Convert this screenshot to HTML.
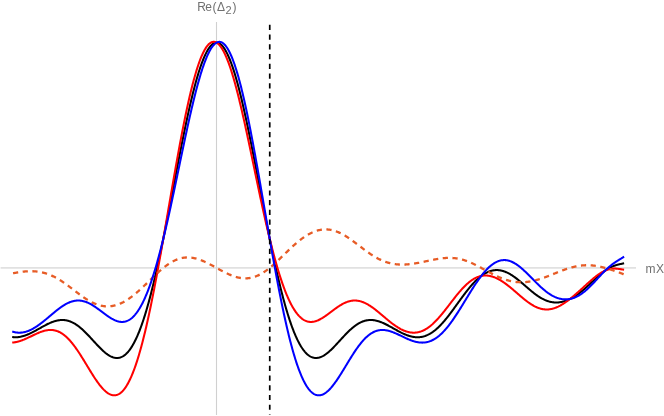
<!DOCTYPE html>
<html><head><meta charset="utf-8"><title>Plot</title>
<style>
html,body{margin:0;padding:0;background:#fff;}
body{width:664px;height:416px;overflow:hidden;position:relative;font-family:"Liberation Sans",sans-serif;}
svg{position:absolute;left:0;top:0;display:block;}
.lbl{position:absolute;color:#707070;font-size:12px;line-height:1;white-space:nowrap;filter:grayscale(1);}
.lbl span{position:absolute;top:0;}
.lbl .sb{font-size:11px;top:3.9px;}
</style></head><body>
<svg width="664" height="416" viewBox="0 0 664 416" fill="none">

<rect x="0.6" y="267" width="635.4" height="1" fill="#e1e1e1"/><rect x="0.6" y="268" width="635.4" height="1" fill="#e8e8e8"/>
<line x1="216.5" y1="22" x2="216.5" y2="415" stroke="#d0d0d0" stroke-width="1.1"/>
<path d="M12.2 337.02 L12.7 337.09 L13.2 337.14 L13.7 337.19 L14.2 337.22 L14.7 337.24 L15.2 337.25 L15.7 337.26 L16.2 337.25 L16.7 337.23 L17.2 337.20 L17.7 337.16 L18.2 337.11 L18.7 337.05 L19.2 336.98 L19.7 336.90 L20.2 336.81 L20.7 336.71 L21.2 336.61 L21.7 336.49 L22.2 336.37 L22.7 336.24 L23.2 336.10 L23.7 335.95 L24.2 335.79 L24.7 335.63 L25.2 335.46 L25.7 335.28 L26.2 335.09 L26.7 334.90 L27.2 334.70 L27.7 334.50 L28.2 334.29 L28.7 334.07 L29.2 333.85 L29.7 333.62 L30.2 333.39 L30.7 333.15 L31.2 332.91 L31.7 332.67 L32.2 332.41 L32.7 332.16 L33.2 331.90 L33.7 331.64 L34.2 331.38 L34.7 331.11 L35.2 330.84 L35.7 330.56 L36.2 330.29 L36.7 330.01 L37.2 329.73 L37.7 329.46 L38.2 329.17 L38.7 328.89 L39.2 328.61 L39.7 328.33 L40.2 328.05 L40.7 327.77 L41.2 327.49 L41.7 327.21 L42.2 326.93 L42.7 326.65 L43.2 326.38 L43.7 326.10 L44.2 325.83 L44.7 325.57 L45.2 325.30 L45.7 325.04 L46.2 324.78 L46.7 324.53 L47.2 324.28 L47.7 324.03 L48.2 323.79 L48.7 323.56 L49.2 323.33 L49.7 323.10 L50.2 322.88 L50.7 322.67 L51.2 322.46 L51.7 322.26 L52.2 322.07 L52.7 321.88 L53.2 321.70 L53.7 321.53 L54.2 321.37 L54.7 321.21 L55.2 321.06 L55.7 320.93 L56.2 320.80 L56.7 320.68 L57.2 320.57 L57.7 320.46 L58.2 320.37 L58.7 320.29 L59.2 320.22 L59.7 320.16 L60.2 320.10 L60.7 320.06 L61.2 320.03 L61.7 320.02 L62.2 320.01 L62.7 320.01 L63.2 320.03 L63.7 320.05 L64.2 320.09 L64.7 320.14 L65.2 320.20 L65.7 320.28 L66.2 320.36 L66.7 320.46 L67.2 320.57 L67.7 320.69 L68.2 320.82 L68.7 320.97 L69.2 321.13 L69.7 321.30 L70.2 321.48 L70.7 321.68 L71.2 321.88 L71.7 322.10 L72.2 322.33 L72.7 322.58 L73.2 322.83 L73.7 323.10 L74.2 323.38 L74.7 323.67 L75.2 323.97 L75.7 324.29 L76.2 324.61 L76.7 324.95 L77.2 325.30 L77.7 325.65 L78.2 326.02 L78.7 326.40 L79.2 326.79 L79.7 327.19 L80.2 327.60 L80.7 328.01 L81.2 328.44 L81.7 328.88 L82.2 329.32 L82.7 329.78 L83.2 330.24 L83.7 330.71 L84.2 331.18 L84.7 331.67 L85.2 332.16 L85.7 332.66 L86.2 333.16 L86.7 333.67 L87.2 334.18 L87.7 334.70 L88.2 335.23 L88.7 335.76 L89.2 336.29 L89.7 336.82 L90.2 337.36 L90.7 337.91 L91.2 338.45 L91.7 338.99 L92.2 339.54 L92.7 340.09 L93.2 340.64 L93.7 341.19 L94.2 341.73 L94.7 342.28 L95.2 342.82 L95.7 343.37 L96.2 343.91 L96.7 344.45 L97.2 344.98 L97.7 345.51 L98.2 346.04 L98.7 346.56 L99.2 347.08 L99.7 347.59 L100.2 348.09 L100.7 348.59 L101.2 349.08 L101.7 349.56 L102.2 350.03 L102.7 350.50 L103.2 350.96 L103.7 351.40 L104.2 351.84 L104.7 352.26 L105.2 352.68 L105.7 353.08 L106.2 353.47 L106.7 353.84 L107.2 354.21 L107.7 354.56 L108.2 354.89 L108.7 355.21 L109.2 355.52 L109.7 355.81 L110.2 356.08 L110.7 356.34 L111.2 356.58 L111.7 356.81 L112.2 357.01 L112.7 357.20 L113.2 357.36 L113.7 357.51 L114.2 357.64 L114.7 357.75 L115.2 357.84 L115.7 357.91 L116.2 357.95 L116.7 357.97 L117.2 357.98 L117.7 357.96 L118.2 357.91 L118.7 357.84 L119.2 357.75 L119.7 357.64 L120.2 357.50 L120.7 357.34 L121.2 357.15 L121.7 356.93 L122.2 356.69 L122.7 356.43 L123.2 356.13 L123.7 355.81 L124.2 355.47 L124.7 355.10 L125.2 354.69 L125.7 354.27 L126.2 353.81 L126.7 353.32 L127.2 352.81 L127.7 352.27 L128.2 351.70 L128.7 351.10 L129.2 350.47 L129.7 349.81 L130.2 349.12 L130.7 348.40 L131.2 347.66 L131.7 346.88 L132.2 346.07 L132.7 345.23 L133.2 344.36 L133.7 343.46 L134.2 342.53 L134.7 341.57 L135.2 340.58 L135.7 339.55 L136.2 338.50 L136.7 337.41 L137.2 336.30 L137.7 335.15 L138.2 333.97 L138.7 332.76 L139.2 331.52 L139.7 330.25 L140.2 328.95 L140.7 327.62 L141.2 326.26 L141.7 324.86 L142.2 323.44 L142.7 321.98 L143.2 320.50 L143.7 318.98 L144.2 317.44 L144.7 315.86 L145.2 314.26 L145.7 312.62 L146.2 310.96 L146.7 309.27 L147.2 307.55 L147.7 305.80 L148.2 304.02 L148.7 302.21 L149.2 300.38 L149.7 298.52 L150.2 296.63 L150.7 294.71 L151.2 292.77 L151.7 290.80 L152.2 288.81 L152.7 286.79 L153.2 284.74 L153.7 282.67 L154.2 280.58 L154.7 278.46 L155.2 276.32 L155.7 274.16 L156.2 271.97 L156.7 269.76 L157.2 267.53 L157.7 265.28 L158.2 263.01 L158.7 260.71 L159.2 258.40 L159.7 256.07 L160.2 253.72 L160.7 251.35 L161.2 248.97 L161.7 246.57 L162.2 244.15 L162.7 241.71 L163.2 239.26 L163.7 236.80 L164.2 234.32 L164.7 231.83 L165.2 229.33 L165.7 226.81 L166.2 224.29 L166.7 221.75 L167.2 219.21 L167.7 216.65 L168.2 214.09 L168.7 211.51 L169.2 208.94 L169.7 206.35 L170.2 203.76 L170.7 201.17 L171.2 198.57 L171.7 195.96 L172.2 193.36 L172.7 190.75 L173.2 188.14 L173.7 185.54 L174.2 182.93 L174.7 180.32 L175.2 177.72 L175.7 175.12 L176.2 172.52 L176.7 169.93 L177.2 167.34 L177.7 164.76 L178.2 162.18 L178.7 159.61 L179.2 157.05 L179.7 154.51 L180.2 151.97 L180.7 149.44 L181.2 146.92 L181.7 144.42 L182.2 141.93 L182.7 139.45 L183.2 136.99 L183.7 134.54 L184.2 132.11 L184.7 129.70 L185.2 127.31 L185.7 124.93 L186.2 122.58 L186.7 120.24 L187.2 117.93 L187.7 115.64 L188.2 113.37 L188.7 111.12 L189.2 108.90 L189.7 106.71 L190.2 104.54 L190.7 102.40 L191.2 100.28 L191.7 98.20 L192.2 96.14 L192.7 94.11 L193.2 92.11 L193.7 90.14 L194.2 88.21 L194.7 86.30 L195.2 84.43 L195.7 82.60 L196.2 80.80 L196.7 79.03 L197.2 77.30 L197.7 75.60 L198.2 73.94 L198.7 72.32 L199.2 70.74 L199.7 69.19 L200.2 67.68 L200.7 66.22 L201.2 64.79 L201.7 63.41 L202.2 62.06 L202.7 60.76 L203.2 59.50 L203.7 58.28 L204.2 57.10 L204.7 55.97 L205.2 54.88 L205.7 53.84 L206.2 52.84 L206.7 51.88 L207.2 50.97 L207.7 50.11 L208.2 49.29 L208.7 48.52 L209.2 47.80 L209.7 47.12 L210.2 46.49 L210.7 45.90 L211.2 45.37 L211.7 44.88 L212.2 44.44 L212.7 44.05 L213.2 43.70 L213.7 43.41 L214.2 43.16 L214.7 42.96 L215.2 42.81 L215.7 42.70 L216.2 42.65 L216.7 42.65 L217.2 42.69 L217.7 42.78 L218.2 42.92 L218.7 43.11 L219.2 43.35 L219.7 43.64 L220.2 43.97 L220.7 44.36 L221.2 44.79 L221.7 45.27 L222.2 45.79 L222.7 46.37 L223.2 46.99 L223.7 47.66 L224.2 48.37 L224.7 49.14 L225.2 49.94 L225.7 50.80 L226.2 51.70 L226.7 52.64 L227.2 53.63 L227.7 54.67 L228.2 55.75 L228.7 56.87 L229.2 58.04 L229.7 59.25 L230.2 60.50 L230.7 61.80 L231.2 63.13 L231.7 64.51 L232.2 65.93 L232.7 67.39 L233.2 68.89 L233.7 70.42 L234.2 72.00 L234.7 73.61 L235.2 75.27 L235.7 76.95 L236.2 78.68 L236.7 80.44 L237.2 82.23 L237.7 84.06 L238.2 85.93 L238.7 87.83 L239.2 89.75 L239.7 91.72 L240.2 93.71 L240.7 95.73 L241.2 97.78 L241.7 99.86 L242.2 101.97 L242.7 104.11 L243.2 106.27 L243.7 108.46 L244.2 110.68 L244.7 112.92 L245.2 115.18 L245.7 117.47 L246.2 119.78 L246.7 122.11 L247.2 124.46 L247.7 126.83 L248.2 129.22 L248.7 131.63 L249.2 134.05 L249.7 136.50 L250.2 138.96 L250.7 141.43 L251.2 143.92 L251.7 146.42 L252.2 148.93 L252.7 151.46 L253.2 154.00 L253.7 156.54 L254.2 159.10 L254.7 161.67 L255.2 164.24 L255.7 166.82 L256.2 169.41 L256.7 172.00 L257.2 174.60 L257.7 177.20 L258.2 179.80 L258.7 182.41 L259.2 185.01 L259.7 187.62 L260.2 190.23 L260.7 192.84 L261.2 195.44 L261.7 198.05 L262.2 200.65 L262.7 203.24 L263.2 205.83 L263.7 208.42 L264.2 211.00 L264.7 213.57 L265.2 216.14 L265.7 218.70 L266.2 221.24 L266.7 223.78 L267.2 226.31 L267.7 228.83 L268.2 231.33 L268.7 233.83 L269.2 236.31 L269.7 238.77 L270.2 241.22 L270.7 243.66 L271.2 246.08 L271.7 248.49 L272.2 250.88 L272.7 253.25 L273.2 255.60 L273.7 257.94 L274.2 260.25 L274.7 262.55 L275.2 264.83 L275.7 267.08 L276.2 269.32 L276.7 271.53 L277.2 273.72 L277.7 275.89 L278.2 278.04 L278.7 280.16 L279.2 282.26 L279.7 284.33 L280.2 286.38 L280.7 288.41 L281.2 290.41 L281.7 292.38 L282.2 294.33 L282.7 296.25 L283.2 298.14 L283.7 300.01 L284.2 301.85 L284.7 303.66 L285.2 305.44 L285.7 307.20 L286.2 308.93 L286.7 310.62 L287.2 312.29 L287.7 313.93 L288.2 315.54 L288.7 317.12 L289.2 318.68 L289.7 320.20 L290.2 321.69 L290.7 323.15 L291.2 324.58 L291.7 325.98 L292.2 327.35 L292.7 328.69 L293.2 329.99 L293.7 331.27 L294.2 332.52 L294.7 333.73 L295.2 334.92 L295.7 336.07 L296.2 337.19 L296.7 338.28 L297.2 339.34 L297.7 340.37 L298.2 341.37 L298.7 342.34 L299.2 343.28 L299.7 344.18 L300.2 345.06 L300.7 345.90 L301.2 346.72 L301.7 347.50 L302.2 348.26 L302.7 348.98 L303.2 349.67 L303.7 350.34 L304.2 350.97 L304.7 351.58 L305.2 352.16 L305.7 352.70 L306.2 353.22 L306.7 353.71 L307.2 354.18 L307.7 354.61 L308.2 355.02 L308.7 355.40 L309.2 355.75 L309.7 356.07 L310.2 356.37 L310.7 356.64 L311.2 356.89 L311.7 357.11 L312.2 357.30 L312.7 357.47 L313.2 357.61 L313.7 357.73 L314.2 357.83 L314.7 357.90 L315.2 357.95 L315.7 357.97 L316.2 357.98 L316.7 357.96 L317.2 357.92 L317.7 357.85 L318.2 357.77 L318.7 357.66 L319.2 357.54 L319.7 357.40 L320.2 357.23 L320.7 357.05 L321.2 356.85 L321.7 356.63 L322.2 356.39 L322.7 356.14 L323.2 355.87 L323.7 355.58 L324.2 355.28 L324.7 354.96 L325.2 354.63 L325.7 354.28 L326.2 353.92 L326.7 353.54 L327.2 353.16 L327.7 352.76 L328.2 352.35 L328.7 351.92 L329.2 351.49 L329.7 351.05 L330.2 350.59 L330.7 350.13 L331.2 349.66 L331.7 349.18 L332.2 348.69 L332.7 348.19 L333.2 347.69 L333.7 347.18 L334.2 346.66 L334.7 346.14 L335.2 345.62 L335.7 345.09 L336.2 344.55 L336.7 344.02 L337.2 343.48 L337.7 342.93 L338.2 342.39 L338.7 341.84 L339.2 341.29 L339.7 340.75 L340.2 340.20 L340.7 339.65 L341.2 339.10 L341.7 338.56 L342.2 338.01 L342.7 337.47 L343.2 336.93 L343.7 336.40 L344.2 335.86 L344.7 335.33 L345.2 334.81 L345.7 334.29 L346.2 333.77 L346.7 333.26 L347.2 332.76 L347.7 332.26 L348.2 331.77 L348.7 331.28 L349.2 330.80 L349.7 330.33 L350.2 329.87 L350.7 329.41 L351.2 328.97 L351.7 328.53 L352.2 328.10 L352.7 327.68 L353.2 327.27 L353.7 326.87 L354.2 326.48 L354.7 326.10 L355.2 325.73 L355.7 325.37 L356.2 325.02 L356.7 324.68 L357.2 324.35 L357.7 324.04 L358.2 323.73 L358.7 323.44 L359.2 323.16 L359.7 322.89 L360.2 322.63 L360.7 322.38 L361.2 322.15 L361.7 321.93 L362.2 321.72 L362.7 321.52 L363.2 321.33 L363.7 321.16 L364.2 321.00 L364.7 320.85 L365.2 320.72 L365.7 320.59 L366.2 320.48 L366.7 320.38 L367.2 320.29 L367.7 320.22 L368.2 320.15 L368.7 320.10 L369.2 320.06 L369.7 320.03 L370.2 320.01 L370.7 320.01 L371.2 320.01 L371.7 320.03 L372.2 320.06 L372.7 320.10 L373.2 320.14 L373.7 320.20 L374.2 320.27 L374.7 320.35 L375.2 320.44 L375.7 320.54 L376.2 320.65 L376.7 320.77 L377.2 320.90 L377.7 321.04 L378.2 321.18 L378.7 321.33 L379.2 321.50 L379.7 321.67 L380.2 321.84 L380.7 322.03 L381.2 322.22 L381.7 322.42 L382.2 322.63 L382.7 322.84 L383.2 323.06 L383.7 323.28 L384.2 323.51 L384.7 323.74 L385.2 323.98 L385.7 324.23 L386.2 324.48 L386.7 324.73 L387.2 324.99 L387.7 325.25 L388.2 325.51 L388.7 325.78 L389.2 326.05 L389.7 326.32 L390.2 326.60 L390.7 326.87 L391.2 327.15 L391.7 327.43 L392.2 327.71 L392.7 327.99 L393.2 328.27 L393.7 328.56 L394.2 328.84 L394.7 329.12 L395.2 329.40 L395.7 329.68 L396.2 329.96 L396.7 330.23 L397.2 330.51 L397.7 330.78 L398.2 331.05 L398.7 331.32 L399.2 331.59 L399.7 331.85 L400.2 332.11 L400.7 332.36 L401.2 332.62 L401.7 332.86 L402.2 333.11 L402.7 333.34 L403.2 333.58 L403.7 333.81 L404.2 334.03 L404.7 334.25 L405.2 334.46 L405.7 334.66 L406.2 334.86 L406.7 335.06 L407.2 335.24 L407.7 335.42 L408.2 335.59 L408.7 335.76 L409.2 335.92 L409.7 336.07 L410.2 336.21 L410.7 336.34 L411.2 336.47 L411.7 336.58 L412.2 336.69 L412.7 336.79 L413.2 336.88 L413.7 336.96 L414.2 337.03 L414.7 337.09 L415.2 337.15 L415.7 337.19 L416.2 337.22 L416.7 337.24 L417.2 337.25 L417.7 337.26 L418.2 337.25 L418.7 337.23 L419.2 337.20 L419.7 337.15 L420.2 337.10 L420.7 337.04 L421.2 336.96 L421.7 336.88 L422.2 336.78 L422.7 336.67 L423.2 336.55 L423.7 336.41 L424.2 336.27 L424.7 336.11 L425.2 335.95 L425.7 335.77 L426.2 335.57 L426.7 335.37 L427.2 335.15 L427.7 334.93 L428.2 334.69 L428.7 334.44 L429.2 334.17 L429.7 333.90 L430.2 333.61 L430.7 333.31 L431.2 333.00 L431.7 332.68 L432.2 332.34 L432.7 332.00 L433.2 331.64 L433.7 331.27 L434.2 330.89 L434.7 330.50 L435.2 330.09 L435.7 329.68 L436.2 329.25 L436.7 328.81 L437.2 328.37 L437.7 327.91 L438.2 327.44 L438.7 326.96 L439.2 326.47 L439.7 325.97 L440.2 325.46 L440.7 324.95 L441.2 324.42 L441.7 323.88 L442.2 323.33 L442.7 322.78 L443.2 322.21 L443.7 321.64 L444.2 321.06 L444.7 320.47 L445.2 319.88 L445.7 319.27 L446.2 318.66 L446.7 318.05 L447.2 317.42 L447.7 316.79 L448.2 316.15 L448.7 315.51 L449.2 314.86 L449.7 314.21 L450.2 313.55 L450.7 312.89 L451.2 312.22 L451.7 311.55 L452.2 310.88 L452.7 310.20 L453.2 309.52 L453.7 308.84 L454.2 308.15 L454.7 307.46 L455.2 306.77 L455.7 306.08 L456.2 305.39 L456.7 304.70 L457.2 304.00 L457.7 303.31 L458.2 302.62 L458.7 301.93 L459.2 301.23 L459.7 300.54 L460.2 299.85 L460.7 299.17 L461.2 298.48 L461.7 297.80 L462.2 297.12 L462.7 296.44 L463.2 295.77 L463.7 295.10 L464.2 294.43 L464.7 293.77 L465.2 293.11 L465.7 292.46 L466.2 291.81 L466.7 291.17 L467.2 290.53 L467.7 289.90 L468.2 289.28 L468.7 288.66 L469.2 288.05 L469.7 287.45 L470.2 286.85 L470.7 286.26 L471.2 285.68 L471.7 285.11 L472.2 284.55 L472.7 283.99 L473.2 283.44 L473.7 282.90 L474.2 282.37 L474.7 281.85 L475.2 281.34 L475.7 280.84 L476.2 280.35 L476.7 279.87 L477.2 279.40 L477.7 278.94 L478.2 278.48 L478.7 278.04 L479.2 277.62 L479.7 277.20 L480.2 276.79 L480.7 276.39 L481.2 276.01 L481.7 275.64 L482.2 275.27 L482.7 274.92 L483.2 274.58 L483.7 274.26 L484.2 273.94 L484.7 273.64 L485.2 273.35 L485.7 273.07 L486.2 272.80 L486.7 272.55 L487.2 272.31 L487.7 272.08 L488.2 271.86 L488.7 271.65 L489.2 271.46 L489.7 271.28 L490.2 271.11 L490.7 270.96 L491.2 270.81 L491.7 270.68 L492.2 270.57 L492.7 270.46 L493.2 270.37 L493.7 270.29 L494.2 270.22 L494.7 270.16 L495.2 270.12 L495.7 270.09 L496.2 270.07 L496.7 270.07 L497.2 270.07 L497.7 270.09 L498.2 270.12 L498.7 270.16 L499.2 270.22 L499.7 270.29 L500.2 270.36 L500.7 270.45 L501.2 270.56 L501.7 270.67 L502.2 270.79 L502.7 270.93 L503.2 271.08 L503.7 271.24 L504.2 271.40 L504.7 271.58 L505.2 271.78 L505.7 271.98 L506.2 272.19 L506.7 272.41 L507.2 272.64 L507.7 272.88 L508.2 273.14 L508.7 273.40 L509.2 273.67 L509.7 273.95 L510.2 274.23 L510.7 274.53 L511.2 274.84 L511.7 275.15 L512.2 275.47 L512.7 275.80 L513.2 276.14 L513.7 276.48 L514.2 276.83 L514.7 277.19 L515.2 277.56 L515.7 277.93 L516.2 278.31 L516.7 278.69 L517.2 279.08 L517.7 279.47 L518.2 279.87 L518.7 280.27 L519.2 280.68 L519.7 281.09 L520.2 281.51 L520.7 281.92 L521.2 282.35 L521.7 282.77 L522.2 283.20 L522.7 283.62 L523.2 284.06 L523.7 284.49 L524.2 284.92 L524.7 285.35 L525.2 285.79 L525.7 286.22 L526.2 286.66 L526.7 287.09 L527.2 287.53 L527.7 287.96 L528.2 288.39 L528.7 288.82 L529.2 289.24 L529.7 289.67 L530.2 290.09 L530.7 290.51 L531.2 290.92 L531.7 291.34 L532.2 291.74 L532.7 292.15 L533.2 292.55 L533.7 292.94 L534.2 293.33 L534.7 293.71 L535.2 294.09 L535.7 294.46 L536.2 294.83 L536.7 295.19 L537.2 295.54 L537.7 295.89 L538.2 296.23 L538.7 296.56 L539.2 296.88 L539.7 297.20 L540.2 297.51 L540.7 297.81 L541.2 298.10 L541.7 298.38 L542.2 298.66 L542.7 298.92 L543.2 299.18 L543.7 299.43 L544.2 299.67 L544.7 299.90 L545.2 300.12 L545.7 300.33 L546.2 300.53 L546.7 300.72 L547.2 300.91 L547.7 301.08 L548.2 301.24 L548.7 301.39 L549.2 301.54 L549.7 301.67 L550.2 301.79 L550.7 301.91 L551.2 302.01 L551.7 302.10 L552.2 302.18 L552.7 302.26 L553.2 302.32 L553.7 302.37 L554.2 302.41 L554.7 302.45 L555.2 302.47 L555.7 302.48 L556.2 302.49 L556.7 302.48 L557.2 302.46 L557.7 302.44 L558.2 302.40 L558.7 302.36 L559.2 302.30 L559.7 302.24 L560.2 302.16 L560.7 302.08 L561.2 301.99 L561.7 301.89 L562.2 301.78 L562.7 301.66 L563.2 301.53 L563.7 301.39 L564.2 301.25 L564.7 301.10 L565.2 300.93 L565.7 300.76 L566.2 300.58 L566.7 300.39 L567.2 300.20 L567.7 299.99 L568.2 299.78 L568.7 299.56 L569.2 299.33 L569.7 299.09 L570.2 298.85 L570.7 298.60 L571.2 298.34 L571.7 298.07 L572.2 297.79 L572.7 297.51 L573.2 297.22 L573.7 296.92 L574.2 296.62 L574.7 296.31 L575.2 295.99 L575.7 295.66 L576.2 295.33 L576.7 294.99 L577.2 294.64 L577.7 294.29 L578.2 293.93 L578.7 293.57 L579.2 293.19 L579.7 292.82 L580.2 292.43 L580.7 292.04 L581.2 291.65 L581.7 291.25 L582.2 290.84 L582.7 290.43 L583.2 290.01 L583.7 289.59 L584.2 289.16 L584.7 288.73 L585.2 288.29 L585.7 287.85 L586.2 287.41 L586.7 286.96 L587.2 286.51 L587.7 286.06 L588.2 285.60 L588.7 285.14 L589.2 284.68 L589.7 284.21 L590.2 283.74 L590.7 283.27 L591.2 282.81 L591.7 282.33 L592.2 281.86 L592.7 281.39 L593.2 280.92 L593.7 280.45 L594.2 279.98 L594.7 279.51 L595.2 279.04 L595.7 278.57 L596.2 278.11 L596.7 277.65 L597.2 277.19 L597.7 276.74 L598.2 276.28 L598.7 275.84 L599.2 275.39 L599.7 274.96 L600.2 274.53 L600.7 274.10 L601.2 273.68 L601.7 273.26 L602.2 272.86 L602.7 272.46 L603.2 272.07 L603.7 271.68 L604.2 271.30 L604.7 270.94 L605.2 270.58 L605.7 270.23 L606.2 269.89 L606.7 269.55 L607.2 269.23 L607.7 268.92 L608.2 268.62 L608.7 268.33 L609.2 268.04 L609.7 267.77 L610.2 267.51 L610.7 267.26 L611.2 267.02 L611.7 266.79 L612.2 266.57 L612.7 266.36 L613.2 266.15 L613.7 265.96 L614.2 265.78 L614.7 265.60 L615.2 265.44 L615.7 265.28 L616.2 265.13 L616.7 264.99 L617.2 264.85 L617.7 264.72 L618.2 264.59 L618.7 264.47 L619.2 264.35 L619.7 264.23 L620.2 264.12 L620.7 264.00 L621.2 263.89 L621.7 263.77 L622.2 263.66 L622.7 263.54 L623.2 263.41 L623.7 263.28 L624.1 263.17" stroke="#000" stroke-width="2.05" stroke-linejoin="round"/>
<path d="M12.2 342.56 L12.7 342.53 L13.2 342.49 L13.7 342.43 L14.2 342.37 L14.7 342.30 L15.2 342.22 L15.7 342.13 L16.2 342.03 L16.7 341.92 L17.2 341.80 L17.7 341.68 L18.2 341.55 L18.7 341.41 L19.2 341.26 L19.7 341.11 L20.2 340.95 L20.7 340.78 L21.2 340.61 L21.7 340.43 L22.2 340.24 L22.7 340.05 L23.2 339.85 L23.7 339.65 L24.2 339.45 L24.7 339.23 L25.2 339.02 L25.7 338.80 L26.2 338.58 L26.7 338.35 L27.2 338.12 L27.7 337.89 L28.2 337.66 L28.7 337.42 L29.2 337.19 L29.7 336.95 L30.2 336.71 L30.7 336.47 L31.2 336.22 L31.7 335.98 L32.2 335.74 L32.7 335.50 L33.2 335.26 L33.7 335.02 L34.2 334.78 L34.7 334.55 L35.2 334.31 L35.7 334.08 L36.2 333.86 L36.7 333.63 L37.2 333.41 L37.7 333.19 L38.2 332.98 L38.7 332.77 L39.2 332.56 L39.7 332.37 L40.2 332.17 L40.7 331.98 L41.2 331.80 L41.7 331.63 L42.2 331.46 L42.7 331.30 L43.2 331.15 L43.7 331.00 L44.2 330.86 L44.7 330.74 L45.2 330.62 L45.7 330.51 L46.2 330.40 L46.7 330.31 L47.2 330.23 L47.7 330.16 L48.2 330.10 L48.7 330.05 L49.2 330.01 L49.7 329.99 L50.2 329.97 L50.7 329.97 L51.2 329.98 L51.7 330.00 L52.2 330.03 L52.7 330.08 L53.2 330.14 L53.7 330.21 L54.2 330.30 L54.7 330.40 L55.2 330.52 L55.7 330.65 L56.2 330.79 L56.7 330.95 L57.2 331.12 L57.7 331.31 L58.2 331.51 L58.7 331.73 L59.2 331.96 L59.7 332.20 L60.2 332.47 L60.7 332.74 L61.2 333.04 L61.7 333.34 L62.2 333.67 L62.7 334.00 L63.2 334.36 L63.7 334.73 L64.2 335.11 L64.7 335.51 L65.2 335.93 L65.7 336.36 L66.2 336.80 L66.7 337.26 L67.2 337.73 L67.7 338.22 L68.2 338.73 L68.7 339.25 L69.2 339.78 L69.7 340.32 L70.2 340.88 L70.7 341.46 L71.2 342.04 L71.7 342.65 L72.2 343.26 L72.7 343.88 L73.2 344.52 L73.7 345.17 L74.2 345.83 L74.7 346.51 L75.2 347.19 L75.7 347.89 L76.2 348.59 L76.7 349.31 L77.2 350.03 L77.7 350.77 L78.2 351.51 L78.7 352.26 L79.2 353.03 L79.7 353.79 L80.2 354.57 L80.7 355.35 L81.2 356.14 L81.7 356.93 L82.2 357.73 L82.7 358.54 L83.2 359.35 L83.7 360.16 L84.2 360.98 L84.7 361.80 L85.2 362.62 L85.7 363.44 L86.2 364.27 L86.7 365.09 L87.2 365.92 L87.7 366.74 L88.2 367.57 L88.7 368.39 L89.2 369.21 L89.7 370.03 L90.2 370.85 L90.7 371.66 L91.2 372.47 L91.7 373.27 L92.2 374.07 L92.7 374.86 L93.2 375.65 L93.7 376.43 L94.2 377.20 L94.7 377.96 L95.2 378.72 L95.7 379.46 L96.2 380.19 L96.7 380.92 L97.2 381.63 L97.7 382.33 L98.2 383.02 L98.7 383.70 L99.2 384.36 L99.7 385.01 L100.2 385.64 L100.7 386.26 L101.2 386.86 L101.7 387.45 L102.2 388.02 L102.7 388.57 L103.2 389.11 L103.7 389.63 L104.2 390.12 L104.7 390.60 L105.2 391.06 L105.7 391.50 L106.2 391.92 L106.7 392.31 L107.2 392.68 L107.7 393.04 L108.2 393.36 L108.7 393.67 L109.2 393.95 L109.7 394.20 L110.2 394.44 L110.7 394.64 L111.2 394.82 L111.7 394.98 L112.2 395.10 L112.7 395.20 L113.2 395.28 L113.7 395.32 L114.2 395.34 L114.7 395.32 L115.2 395.28 L115.7 395.21 L116.2 395.11 L116.7 394.98 L117.2 394.82 L117.7 394.63 L118.2 394.40 L118.7 394.15 L119.2 393.86 L119.7 393.54 L120.2 393.19 L120.7 392.81 L121.2 392.39 L121.7 391.94 L122.2 391.46 L122.7 390.94 L123.2 390.39 L123.7 389.80 L124.2 389.19 L124.7 388.53 L125.2 387.84 L125.7 387.12 L126.2 386.36 L126.7 385.56 L127.2 384.73 L127.7 383.87 L128.2 382.97 L128.7 382.03 L129.2 381.06 L129.7 380.05 L130.2 379.00 L130.7 377.92 L131.2 376.81 L131.7 375.65 L132.2 374.46 L132.7 373.24 L133.2 371.98 L133.7 370.68 L134.2 369.35 L134.7 367.98 L135.2 366.57 L135.7 365.13 L136.2 363.66 L136.7 362.14 L137.2 360.60 L137.7 359.01 L138.2 357.39 L138.7 355.74 L139.2 354.05 L139.7 352.33 L140.2 350.57 L140.7 348.78 L141.2 346.96 L141.7 345.10 L142.2 343.21 L142.7 341.28 L143.2 339.32 L143.7 337.33 L144.2 335.31 L144.7 333.25 L145.2 331.17 L145.7 329.05 L146.2 326.90 L146.7 324.72 L147.2 322.52 L147.7 320.28 L148.2 318.01 L148.7 315.72 L149.2 313.40 L149.7 311.05 L150.2 308.67 L150.7 306.27 L151.2 303.84 L151.7 301.38 L152.2 298.90 L152.7 296.40 L153.2 293.87 L153.7 291.32 L154.2 288.75 L154.7 286.15 L155.2 283.54 L155.7 280.90 L156.2 278.24 L156.7 275.57 L157.2 272.87 L157.7 270.16 L158.2 267.43 L158.7 264.69 L159.2 261.93 L159.7 259.15 L160.2 256.36 L160.7 253.56 L161.2 250.74 L161.7 247.92 L162.2 245.08 L162.7 242.23 L163.2 239.37 L163.7 236.50 L164.2 233.63 L164.7 230.75 L165.2 227.86 L165.7 224.97 L166.2 222.07 L166.7 219.17 L167.2 216.26 L167.7 213.35 L168.2 210.45 L168.7 207.54 L169.2 204.63 L169.7 201.72 L170.2 198.82 L170.7 195.92 L171.2 193.02 L171.7 190.13 L172.2 187.24 L172.7 184.36 L173.2 181.49 L173.7 178.62 L174.2 175.77 L174.7 172.92 L175.2 170.09 L175.7 167.26 L176.2 164.45 L176.7 161.66 L177.2 158.87 L177.7 156.11 L178.2 153.35 L178.7 150.62 L179.2 147.90 L179.7 145.20 L180.2 142.52 L180.7 139.87 L181.2 137.23 L181.7 134.61 L182.2 132.02 L182.7 129.44 L183.2 126.90 L183.7 124.38 L184.2 121.88 L184.7 119.41 L185.2 116.97 L185.7 114.55 L186.2 112.17 L186.7 109.81 L187.2 107.48 L187.7 105.19 L188.2 102.92 L188.7 100.69 L189.2 98.49 L189.7 96.33 L190.2 94.20 L190.7 92.10 L191.2 90.04 L191.7 88.01 L192.2 86.03 L192.7 84.08 L193.2 82.16 L193.7 80.29 L194.2 78.46 L194.7 76.66 L195.2 74.91 L195.7 73.19 L196.2 71.52 L196.7 69.89 L197.2 68.30 L197.7 66.75 L198.2 65.25 L198.7 63.79 L199.2 62.38 L199.7 61.00 L200.2 59.68 L200.7 58.40 L201.2 57.16 L201.7 55.97 L202.2 54.83 L202.7 53.73 L203.2 52.68 L203.7 51.68 L204.2 50.73 L204.7 49.82 L205.2 48.96 L205.7 48.15 L206.2 47.39 L206.7 46.68 L207.2 46.01 L207.7 45.40 L208.2 44.83 L208.7 44.31 L209.2 43.84 L209.7 43.42 L210.2 43.06 L210.7 42.74 L211.2 42.47 L211.7 42.24 L212.2 42.07 L212.7 41.95 L213.2 41.88 L213.7 41.86 L214.2 41.88 L214.7 41.96 L215.2 42.09 L215.7 42.26 L216.2 42.48 L216.7 42.76 L217.2 43.08 L217.7 43.45 L218.2 43.87 L218.7 44.33 L219.2 44.84 L219.7 45.40 L220.2 46.01 L220.7 46.67 L221.2 47.37 L221.7 48.12 L222.2 48.91 L222.7 49.75 L223.2 50.63 L223.7 51.56 L224.2 52.53 L224.7 53.55 L225.2 54.61 L225.7 55.71 L226.2 56.86 L226.7 58.05 L227.2 59.27 L227.7 60.54 L228.2 61.85 L228.7 63.20 L229.2 64.59 L229.7 66.02 L230.2 67.48 L230.7 68.99 L231.2 70.53 L231.7 72.10 L232.2 73.71 L232.7 75.36 L233.2 77.04 L233.7 78.75 L234.2 80.50 L234.7 82.27 L235.2 84.08 L235.7 85.92 L236.2 87.79 L236.7 89.69 L237.2 91.62 L237.7 93.57 L238.2 95.55 L238.7 97.56 L239.2 99.59 L239.7 101.64 L240.2 103.72 L240.7 105.83 L241.2 107.95 L241.7 110.10 L242.2 112.26 L242.7 114.45 L243.2 116.65 L243.7 118.87 L244.2 121.11 L244.7 123.36 L245.2 125.63 L245.7 127.92 L246.2 130.21 L246.7 132.52 L247.2 134.84 L247.7 137.18 L248.2 139.52 L248.7 141.87 L249.2 144.23 L249.7 146.60 L250.2 148.98 L250.7 151.36 L251.2 153.75 L251.7 156.14 L252.2 158.53 L252.7 160.93 L253.2 163.33 L253.7 165.73 L254.2 168.13 L254.7 170.53 L255.2 172.93 L255.7 175.32 L256.2 177.72 L256.7 180.11 L257.2 182.49 L257.7 184.87 L258.2 187.25 L258.7 189.62 L259.2 191.98 L259.7 194.33 L260.2 196.68 L260.7 199.01 L261.2 201.34 L261.7 203.65 L262.2 205.95 L262.7 208.25 L263.2 210.53 L263.7 212.79 L264.2 215.04 L264.7 217.28 L265.2 219.50 L265.7 221.71 L266.2 223.90 L266.7 226.08 L267.2 228.23 L267.7 230.37 L268.2 232.50 L268.7 234.60 L269.2 236.68 L269.7 238.75 L270.2 240.79 L270.7 242.81 L271.2 244.82 L271.7 246.80 L272.2 248.76 L272.7 250.69 L273.2 252.61 L273.7 254.50 L274.2 256.37 L274.7 258.21 L275.2 260.03 L275.7 261.83 L276.2 263.60 L276.7 265.35 L277.2 267.07 L277.7 268.77 L278.2 270.44 L278.7 272.09 L279.2 273.71 L279.7 275.30 L280.2 276.87 L280.7 278.41 L281.2 279.93 L281.7 281.41 L282.2 282.87 L282.7 284.31 L283.2 285.71 L283.7 287.09 L284.2 288.44 L284.7 289.76 L285.2 291.06 L285.7 292.33 L286.2 293.57 L286.7 294.78 L287.2 295.96 L287.7 297.12 L288.2 298.25 L288.7 299.35 L289.2 300.42 L289.7 301.47 L290.2 302.48 L290.7 303.47 L291.2 304.44 L291.7 305.37 L292.2 306.28 L292.7 307.16 L293.2 308.01 L293.7 308.83 L294.2 309.63 L294.7 310.40 L295.2 311.14 L295.7 311.86 L296.2 312.55 L296.7 313.21 L297.2 313.85 L297.7 314.46 L298.2 315.04 L298.7 315.60 L299.2 316.13 L299.7 316.64 L300.2 317.13 L300.7 317.58 L301.2 318.02 L301.7 318.43 L302.2 318.81 L302.7 319.17 L303.2 319.51 L303.7 319.82 L304.2 320.11 L304.7 320.38 L305.2 320.62 L305.7 320.85 L306.2 321.05 L306.7 321.23 L307.2 321.39 L307.7 321.52 L308.2 321.64 L308.7 321.73 L309.2 321.81 L309.7 321.87 L310.2 321.91 L310.7 321.92 L311.2 321.92 L311.7 321.91 L312.2 321.87 L312.7 321.82 L313.2 321.75 L313.7 321.66 L314.2 321.56 L314.7 321.44 L315.2 321.31 L315.7 321.16 L316.2 321.00 L316.7 320.83 L317.2 320.64 L317.7 320.44 L318.2 320.22 L318.7 319.99 L319.2 319.75 L319.7 319.50 L320.2 319.24 L320.7 318.97 L321.2 318.69 L321.7 318.40 L322.2 318.10 L322.7 317.80 L323.2 317.48 L323.7 317.16 L324.2 316.83 L324.7 316.49 L325.2 316.15 L325.7 315.80 L326.2 315.45 L326.7 315.09 L327.2 314.73 L327.7 314.36 L328.2 314.00 L328.7 313.63 L329.2 313.25 L329.7 312.88 L330.2 312.50 L330.7 312.12 L331.2 311.75 L331.7 311.37 L332.2 310.99 L332.7 310.61 L333.2 310.24 L333.7 309.87 L334.2 309.50 L334.7 309.13 L335.2 308.76 L335.7 308.40 L336.2 308.05 L336.7 307.69 L337.2 307.34 L337.7 307.00 L338.2 306.66 L338.7 306.33 L339.2 306.01 L339.7 305.69 L340.2 305.38 L340.7 305.07 L341.2 304.77 L341.7 304.49 L342.2 304.20 L342.7 303.93 L343.2 303.67 L343.7 303.41 L344.2 303.17 L344.7 302.93 L345.2 302.71 L345.7 302.49 L346.2 302.29 L346.7 302.09 L347.2 301.91 L347.7 301.73 L348.2 301.57 L348.7 301.42 L349.2 301.28 L349.7 301.15 L350.2 301.04 L350.7 300.93 L351.2 300.84 L351.7 300.76 L352.2 300.69 L352.7 300.63 L353.2 300.59 L353.7 300.56 L354.2 300.54 L354.7 300.53 L355.2 300.53 L355.7 300.55 L356.2 300.58 L356.7 300.62 L357.2 300.67 L357.7 300.74 L358.2 300.82 L358.7 300.91 L359.2 301.01 L359.7 301.12 L360.2 301.25 L360.7 301.38 L361.2 301.53 L361.7 301.69 L362.2 301.86 L362.7 302.04 L363.2 302.23 L363.7 302.44 L364.2 302.65 L364.7 302.87 L365.2 303.11 L365.7 303.35 L366.2 303.60 L366.7 303.87 L367.2 304.14 L367.7 304.42 L368.2 304.71 L368.7 305.01 L369.2 305.31 L369.7 305.63 L370.2 305.95 L370.7 306.28 L371.2 306.62 L371.7 306.96 L372.2 307.31 L372.7 307.67 L373.2 308.03 L373.7 308.40 L374.2 308.78 L374.7 309.16 L375.2 309.54 L375.7 309.93 L376.2 310.33 L376.7 310.72 L377.2 311.13 L377.7 311.53 L378.2 311.94 L378.7 312.35 L379.2 312.76 L379.7 313.18 L380.2 313.60 L380.7 314.02 L381.2 314.44 L381.7 314.86 L382.2 315.28 L382.7 315.71 L383.2 316.13 L383.7 316.55 L384.2 316.98 L384.7 317.40 L385.2 317.82 L385.7 318.24 L386.2 318.66 L386.7 319.08 L387.2 319.49 L387.7 319.91 L388.2 320.32 L388.7 320.72 L389.2 321.13 L389.7 321.53 L390.2 321.93 L390.7 322.32 L391.2 322.71 L391.7 323.09 L392.2 323.48 L392.7 323.85 L393.2 324.22 L393.7 324.59 L394.2 324.95 L394.7 325.30 L395.2 325.65 L395.7 325.99 L396.2 326.33 L396.7 326.66 L397.2 326.98 L397.7 327.30 L398.2 327.61 L398.7 327.91 L399.2 328.20 L399.7 328.49 L400.2 328.76 L400.7 329.03 L401.2 329.30 L401.7 329.55 L402.2 329.79 L402.7 330.03 L403.2 330.26 L403.7 330.47 L404.2 330.68 L404.7 330.88 L405.2 331.07 L405.7 331.25 L406.2 331.42 L406.7 331.58 L407.2 331.73 L407.7 331.87 L408.2 332.00 L408.7 332.12 L409.2 332.22 L409.7 332.32 L410.2 332.41 L410.7 332.48 L411.2 332.54 L411.7 332.60 L412.2 332.64 L412.7 332.67 L413.2 332.68 L413.7 332.69 L414.2 332.69 L414.7 332.67 L415.2 332.64 L415.7 332.60 L416.2 332.55 L416.7 332.48 L417.2 332.40 L417.7 332.31 L418.2 332.21 L418.7 332.10 L419.2 331.97 L419.7 331.83 L420.2 331.68 L420.7 331.52 L421.2 331.34 L421.7 331.15 L422.2 330.95 L422.7 330.74 L423.2 330.51 L423.7 330.28 L424.2 330.03 L424.7 329.76 L425.2 329.49 L425.7 329.20 L426.2 328.90 L426.7 328.59 L427.2 328.27 L427.7 327.94 L428.2 327.59 L428.7 327.23 L429.2 326.86 L429.7 326.48 L430.2 326.09 L430.7 325.68 L431.2 325.27 L431.7 324.84 L432.2 324.41 L432.7 323.96 L433.2 323.50 L433.7 323.03 L434.2 322.56 L434.7 322.07 L435.2 321.57 L435.7 321.06 L436.2 320.55 L436.7 320.02 L437.2 319.49 L437.7 318.95 L438.2 318.40 L438.7 317.84 L439.2 317.28 L439.7 316.70 L440.2 316.12 L440.7 315.54 L441.2 314.94 L441.7 314.34 L442.2 313.74 L442.7 313.13 L443.2 312.51 L443.7 311.89 L444.2 311.27 L444.7 310.64 L445.2 310.01 L445.7 309.37 L446.2 308.73 L446.7 308.09 L447.2 307.44 L447.7 306.80 L448.2 306.15 L448.7 305.50 L449.2 304.85 L449.7 304.20 L450.2 303.55 L450.7 302.89 L451.2 302.24 L451.7 301.59 L452.2 300.95 L452.7 300.30 L453.2 299.65 L453.7 299.01 L454.2 298.37 L454.7 297.74 L455.2 297.10 L455.7 296.48 L456.2 295.85 L456.7 295.23 L457.2 294.62 L457.7 294.01 L458.2 293.40 L458.7 292.80 L459.2 292.21 L459.7 291.63 L460.2 291.05 L460.7 290.48 L461.2 289.91 L461.7 289.36 L462.2 288.81 L462.7 288.27 L463.2 287.74 L463.7 287.22 L464.2 286.71 L464.7 286.20 L465.2 285.71 L465.7 285.23 L466.2 284.75 L466.7 284.29 L467.2 283.84 L467.7 283.40 L468.2 282.96 L468.7 282.54 L469.2 282.14 L469.7 281.74 L470.2 281.35 L470.7 280.98 L471.2 280.62 L471.7 280.27 L472.2 279.93 L472.7 279.60 L473.2 279.29 L473.7 278.99 L474.2 278.70 L474.7 278.42 L475.2 278.16 L475.7 277.90 L476.2 277.67 L476.7 277.44 L477.2 277.23 L477.7 277.02 L478.2 276.84 L478.7 276.66 L479.2 276.50 L479.7 276.35 L480.2 276.21 L480.7 276.09 L481.2 275.97 L481.7 275.87 L482.2 275.79 L482.7 275.71 L483.2 275.65 L483.7 275.60 L484.2 275.56 L484.7 275.54 L485.2 275.52 L485.7 275.52 L486.2 275.53 L486.7 275.55 L487.2 275.59 L487.7 275.63 L488.2 275.69 L488.7 275.76 L489.2 275.84 L489.7 275.93 L490.2 276.03 L490.7 276.14 L491.2 276.26 L491.7 276.40 L492.2 276.54 L492.7 276.70 L493.2 276.86 L493.7 277.04 L494.2 277.22 L494.7 277.41 L495.2 277.62 L495.7 277.83 L496.2 278.05 L496.7 278.29 L497.2 278.53 L497.7 278.78 L498.2 279.03 L498.7 279.30 L499.2 279.57 L499.7 279.86 L500.2 280.15 L500.7 280.45 L501.2 280.75 L501.7 281.06 L502.2 281.38 L502.7 281.71 L503.2 282.05 L503.7 282.39 L504.2 282.73 L504.7 283.09 L505.2 283.45 L505.7 283.81 L506.2 284.18 L506.7 284.56 L507.2 284.94 L507.7 285.32 L508.2 285.71 L508.7 286.11 L509.2 286.51 L509.7 286.91 L510.2 287.32 L510.7 287.73 L511.2 288.14 L511.7 288.56 L512.2 288.97 L512.7 289.40 L513.2 289.82 L513.7 290.25 L514.2 290.67 L514.7 291.10 L515.2 291.53 L515.7 291.97 L516.2 292.40 L516.7 292.83 L517.2 293.26 L517.7 293.70 L518.2 294.13 L518.7 294.56 L519.2 294.99 L519.7 295.42 L520.2 295.85 L520.7 296.27 L521.2 296.70 L521.7 297.12 L522.2 297.54 L522.7 297.95 L523.2 298.36 L523.7 298.77 L524.2 299.18 L524.7 299.58 L525.2 299.98 L525.7 300.37 L526.2 300.75 L526.7 301.14 L527.2 301.51 L527.7 301.88 L528.2 302.25 L528.7 302.60 L529.2 302.96 L529.7 303.30 L530.2 303.64 L530.7 303.97 L531.2 304.29 L531.7 304.60 L532.2 304.91 L532.7 305.21 L533.2 305.50 L533.7 305.78 L534.2 306.05 L534.7 306.31 L535.2 306.56 L535.7 306.81 L536.2 307.04 L536.7 307.27 L537.2 307.48 L537.7 307.68 L538.2 307.88 L538.7 308.06 L539.2 308.23 L539.7 308.39 L540.2 308.54 L540.7 308.68 L541.2 308.81 L541.7 308.93 L542.2 309.03 L542.7 309.13 L543.2 309.21 L543.7 309.28 L544.2 309.34 L544.7 309.39 L545.2 309.43 L545.7 309.46 L546.2 309.47 L546.7 309.48 L547.2 309.47 L547.7 309.45 L548.2 309.42 L548.7 309.38 L549.2 309.32 L549.7 309.26 L550.2 309.19 L550.7 309.10 L551.2 309.00 L551.7 308.90 L552.2 308.78 L552.7 308.65 L553.2 308.51 L553.7 308.36 L554.2 308.20 L554.7 308.04 L555.2 307.86 L555.7 307.67 L556.2 307.47 L556.7 307.26 L557.2 307.05 L557.7 306.82 L558.2 306.59 L558.7 306.34 L559.2 306.09 L559.7 305.83 L560.2 305.57 L560.7 305.29 L561.2 305.01 L561.7 304.72 L562.2 304.42 L562.7 304.11 L563.2 303.80 L563.7 303.48 L564.2 303.15 L564.7 302.82 L565.2 302.48 L565.7 302.14 L566.2 301.78 L566.7 301.43 L567.2 301.07 L567.7 300.70 L568.2 300.32 L568.7 299.95 L569.2 299.56 L569.7 299.17 L570.2 298.78 L570.7 298.39 L571.2 297.98 L571.7 297.58 L572.2 297.17 L572.7 296.76 L573.2 296.34 L573.7 295.92 L574.2 295.50 L574.7 295.07 L575.2 294.64 L575.7 294.21 L576.2 293.77 L576.7 293.33 L577.2 292.89 L577.7 292.45 L578.2 292.01 L578.7 291.56 L579.2 291.11 L579.7 290.66 L580.2 290.21 L580.7 289.76 L581.2 289.30 L581.7 288.85 L582.2 288.39 L582.7 287.94 L583.2 287.48 L583.7 287.02 L584.2 286.56 L584.7 286.11 L585.2 285.65 L585.7 285.19 L586.2 284.74 L586.7 284.28 L587.2 283.83 L587.7 283.38 L588.2 282.93 L588.7 282.48 L589.2 282.03 L589.7 281.59 L590.2 281.15 L590.7 280.71 L591.2 280.27 L591.7 279.84 L592.2 279.41 L592.7 278.99 L593.2 278.57 L593.7 278.15 L594.2 277.74 L594.7 277.34 L595.2 276.94 L595.7 276.55 L596.2 276.16 L596.7 275.78 L597.2 275.40 L597.7 275.04 L598.2 274.68 L598.7 274.33 L599.2 273.98 L599.7 273.65 L600.2 273.32 L600.7 273.00 L601.2 272.69 L601.7 272.40 L602.2 272.11 L602.7 271.83 L603.2 271.56 L603.7 271.30 L604.2 271.06 L604.7 270.82 L605.2 270.60 L605.7 270.38 L606.2 270.18 L606.7 269.99 L607.2 269.81 L607.7 269.65 L608.2 269.50 L608.7 269.36 L609.2 269.23 L609.7 269.11 L610.2 269.00 L610.7 268.91 L611.2 268.83 L611.7 268.76 L612.2 268.71 L612.7 268.66 L613.2 268.63 L613.7 268.61 L614.2 268.59 L614.7 268.59 L615.2 268.60 L615.7 268.62 L616.2 268.64 L616.7 268.68 L617.2 268.72 L617.7 268.78 L618.2 268.83 L618.7 268.90 L619.2 268.97 L619.7 269.04 L620.2 269.12 L620.7 269.20 L621.2 269.28 L621.7 269.37 L622.2 269.45 L622.7 269.53 L623.2 269.61 L623.7 269.69 L624.1 269.75" stroke="#ff0000" stroke-width="2.05" stroke-linejoin="round"/>
<path d="M12.2 273.44 L12.7 273.34 L13.2 273.24 L13.7 273.14 L14.2 273.05 L14.7 272.95 L15.2 272.86 L15.7 272.77 L16.2 272.68 L16.7 272.59 L17.2 272.51 L17.7 272.42 L18.2 272.34 L18.7 272.26 L19.2 272.19 L19.7 272.11 L20.2 272.04 L20.7 271.97 L21.2 271.90 L21.7 271.84 L22.2 271.77 L22.7 271.71 L23.2 271.66 L23.7 271.60 L24.2 271.55 L24.7 271.51 L25.2 271.46 L25.7 271.42 L26.2 271.38 L26.7 271.35 L27.2 271.32 L27.7 271.29 L28.2 271.27 L28.7 271.25 L29.2 271.24 L29.7 271.22 L30.2 271.22 L30.7 271.21 L31.2 271.21 L31.7 271.22 L32.2 271.23 L32.7 271.24 L33.2 271.26 L33.7 271.28 L34.2 271.31 L34.7 271.34 L35.2 271.38 L35.7 271.42 L36.2 271.47 L36.7 271.52 L37.2 271.57 L37.7 271.64 L38.2 271.70 L38.7 271.77 L39.2 271.85 L39.7 271.94 L40.2 272.02 L40.7 272.12 L41.2 272.22 L41.7 272.32 L42.2 272.43 L42.7 272.55 L43.2 272.67 L43.7 272.80 L44.2 272.93 L44.7 273.07 L45.2 273.21 L45.7 273.37 L46.2 273.52 L46.7 273.68 L47.2 273.85 L47.7 274.03 L48.2 274.21 L48.7 274.39 L49.2 274.59 L49.7 274.79 L50.2 274.99 L50.7 275.20 L51.2 275.42 L51.7 275.64 L52.2 275.87 L52.7 276.10 L53.2 276.34 L53.7 276.58 L54.2 276.83 L54.7 277.09 L55.2 277.35 L55.7 277.62 L56.2 277.89 L56.7 278.17 L57.2 278.45 L57.7 278.74 L58.2 279.04 L58.7 279.34 L59.2 279.64 L59.7 279.95 L60.2 280.26 L60.7 280.58 L61.2 280.90 L61.7 281.23 L62.2 281.56 L62.7 281.89 L63.2 282.23 L63.7 282.58 L64.2 282.92 L64.7 283.27 L65.2 283.62 L65.7 283.98 L66.2 284.34 L66.7 284.70 L67.2 285.07 L67.7 285.43 L68.2 285.80 L68.7 286.18 L69.2 286.55 L69.7 286.93 L70.2 287.30 L70.7 287.68 L71.2 288.06 L71.7 288.44 L72.2 288.82 L72.7 289.21 L73.2 289.59 L73.7 289.97 L74.2 290.35 L74.7 290.74 L75.2 291.12 L75.7 291.50 L76.2 291.88 L76.7 292.26 L77.2 292.64 L77.7 293.02 L78.2 293.39 L78.7 293.76 L79.2 294.14 L79.7 294.51 L80.2 294.87 L80.7 295.24 L81.2 295.60 L81.7 295.96 L82.2 296.31 L82.7 296.66 L83.2 297.01 L83.7 297.35 L84.2 297.69 L84.7 298.03 L85.2 298.36 L85.7 298.68 L86.2 299.01 L86.7 299.32 L87.2 299.63 L87.7 299.94 L88.2 300.24 L88.7 300.54 L89.2 300.82 L89.7 301.11 L90.2 301.39 L90.7 301.66 L91.2 301.92 L91.7 302.18 L92.2 302.43 L92.7 302.67 L93.2 302.91 L93.7 303.14 L94.2 303.37 L94.7 303.58 L95.2 303.79 L95.7 303.99 L96.2 304.19 L96.7 304.37 L97.2 304.55 L97.7 304.72 L98.2 304.88 L98.7 305.04 L99.2 305.18 L99.7 305.32 L100.2 305.45 L100.7 305.57 L101.2 305.69 L101.7 305.79 L102.2 305.89 L102.7 305.97 L103.2 306.05 L103.7 306.12 L104.2 306.19 L104.7 306.24 L105.2 306.28 L105.7 306.32 L106.2 306.35 L106.7 306.37 L107.2 306.38 L107.7 306.38 L108.2 306.37 L108.7 306.35 L109.2 306.33 L109.7 306.29 L110.2 306.25 L110.7 306.20 L111.2 306.14 L111.7 306.07 L112.2 305.99 L112.7 305.91 L113.2 305.81 L113.7 305.71 L114.2 305.60 L114.7 305.47 L115.2 305.35 L115.7 305.21 L116.2 305.06 L116.7 304.91 L117.2 304.74 L117.7 304.57 L118.2 304.39 L118.7 304.21 L119.2 304.01 L119.7 303.81 L120.2 303.59 L120.7 303.37 L121.2 303.15 L121.7 302.91 L122.2 302.67 L122.7 302.42 L123.2 302.16 L123.7 301.89 L124.2 301.62 L124.7 301.34 L125.2 301.05 L125.7 300.75 L126.2 300.45 L126.7 300.14 L127.2 299.82 L127.7 299.50 L128.2 299.17 L128.7 298.83 L129.2 298.49 L129.7 298.14 L130.2 297.78 L130.7 297.42 L131.2 297.05 L131.7 296.68 L132.2 296.30 L132.7 295.91 L133.2 295.52 L133.7 295.12 L134.2 294.72 L134.7 294.31 L135.2 293.90 L135.7 293.48 L136.2 293.06 L136.7 292.63 L137.2 292.20 L137.7 291.76 L138.2 291.32 L138.7 290.88 L139.2 290.43 L139.7 289.98 L140.2 289.52 L140.7 289.06 L141.2 288.60 L141.7 288.14 L142.2 287.67 L142.7 287.20 L143.2 286.72 L143.7 286.25 L144.2 285.77 L144.7 285.29 L145.2 284.81 L145.7 284.33 L146.2 283.84 L146.7 283.36 L147.2 282.87 L147.7 282.38 L148.2 281.89 L148.7 281.41 L149.2 280.92 L149.7 280.43 L150.2 279.94 L150.7 279.45 L151.2 278.96 L151.7 278.48 L152.2 277.99 L152.7 277.51 L153.2 277.03 L153.7 276.54 L154.2 276.07 L154.7 275.59 L155.2 275.11 L155.7 274.64 L156.2 274.17 L156.7 273.71 L157.2 273.24 L157.7 272.78 L158.2 272.33 L158.7 271.87 L159.2 271.43 L159.7 270.98 L160.2 270.54 L160.7 270.11 L161.2 269.68 L161.7 269.25 L162.2 268.83 L162.7 268.42 L163.2 268.01 L163.7 267.60 L164.2 267.21 L164.7 266.82 L165.2 266.43 L165.7 266.05 L166.2 265.68 L166.7 265.31 L167.2 264.96 L167.7 264.60 L168.2 264.26 L168.7 263.92 L169.2 263.59 L169.7 263.27 L170.2 262.96 L170.7 262.65 L171.2 262.35 L171.7 262.06 L172.2 261.78 L172.7 261.51 L173.2 261.24 L173.7 260.99 L174.2 260.74 L174.7 260.50 L175.2 260.27 L175.7 260.05 L176.2 259.84 L176.7 259.63 L177.2 259.44 L177.7 259.25 L178.2 259.07 L178.7 258.91 L179.2 258.75 L179.7 258.60 L180.2 258.46 L180.7 258.33 L181.2 258.21 L181.7 258.09 L182.2 257.99 L182.7 257.90 L183.2 257.81 L183.7 257.73 L184.2 257.67 L184.7 257.61 L185.2 257.56 L185.7 257.52 L186.2 257.49 L186.7 257.47 L187.2 257.45 L187.7 257.45 L188.2 257.45 L188.7 257.47 L189.2 257.49 L189.7 257.52 L190.2 257.56 L190.7 257.60 L191.2 257.66 L191.7 257.72 L192.2 257.79 L192.7 257.87 L193.2 257.95 L193.7 258.05 L194.2 258.15 L194.7 258.26 L195.2 258.37 L195.7 258.49 L196.2 258.62 L196.7 258.76 L197.2 258.90 L197.7 259.05 L198.2 259.21 L198.7 259.37 L199.2 259.54 L199.7 259.71 L200.2 259.89 L200.7 260.08 L201.2 260.27 L201.7 260.47 L202.2 260.67 L202.7 260.88 L203.2 261.09 L203.7 261.30 L204.2 261.53 L204.7 261.75 L205.2 261.98 L205.7 262.21 L206.2 262.45 L206.7 262.69 L207.2 262.94 L207.7 263.18 L208.2 263.44 L208.7 263.69 L209.2 263.95 L209.7 264.21 L210.2 264.47 L210.7 264.73 L211.2 265.00 L211.7 265.27 L212.2 265.53 L212.7 265.81 L213.2 266.08 L213.7 266.35 L214.2 266.63 L214.7 266.90 L215.2 267.18 L215.7 267.46 L216.2 267.73 L216.7 268.01 L217.2 268.29 L217.7 268.56 L218.2 268.84 L218.7 269.12 L219.2 269.39 L219.7 269.67 L220.2 269.94 L220.7 270.21 L221.2 270.48 L221.7 270.75 L222.2 271.02 L222.7 271.28 L223.2 271.54 L223.7 271.80 L224.2 272.06 L224.7 272.31 L225.2 272.57 L225.7 272.81 L226.2 273.06 L226.7 273.30 L227.2 273.54 L227.7 273.77 L228.2 274.00 L228.7 274.23 L229.2 274.45 L229.7 274.67 L230.2 274.88 L230.7 275.09 L231.2 275.29 L231.7 275.49 L232.2 275.68 L232.7 275.87 L233.2 276.05 L233.7 276.23 L234.2 276.40 L234.7 276.56 L235.2 276.72 L235.7 276.87 L236.2 277.01 L236.7 277.15 L237.2 277.28 L237.7 277.40 L238.2 277.52 L238.7 277.63 L239.2 277.73 L239.7 277.83 L240.2 277.92 L240.7 278.00 L241.2 278.07 L241.7 278.13 L242.2 278.19 L242.7 278.24 L243.2 278.28 L243.7 278.31 L244.2 278.33 L244.7 278.34 L245.2 278.35 L245.7 278.35 L246.2 278.34 L246.7 278.31 L247.2 278.29 L247.7 278.25 L248.2 278.20 L248.7 278.14 L249.2 278.08 L249.7 278.01 L250.2 277.92 L250.7 277.83 L251.2 277.73 L251.7 277.62 L252.2 277.50 L252.7 277.37 L253.2 277.23 L253.7 277.08 L254.2 276.93 L254.7 276.76 L255.2 276.59 L255.7 276.40 L256.2 276.21 L256.7 276.01 L257.2 275.80 L257.7 275.58 L258.2 275.35 L258.7 275.11 L259.2 274.86 L259.7 274.61 L260.2 274.35 L260.7 274.07 L261.2 273.79 L261.7 273.51 L262.2 273.21 L262.7 272.90 L263.2 272.59 L263.7 272.27 L264.2 271.94 L264.7 271.61 L265.2 271.27 L265.7 270.92 L266.2 270.56 L266.7 270.19 L267.2 269.82 L267.7 269.45 L268.2 269.06 L268.7 268.67 L269.2 268.28 L269.7 267.87 L270.2 267.47 L270.7 267.05 L271.2 266.63 L271.7 266.21 L272.2 265.78 L272.7 265.34 L273.2 264.91 L273.7 264.46 L274.2 264.02 L274.7 263.56 L275.2 263.11 L275.7 262.65 L276.2 262.19 L276.7 261.72 L277.2 261.25 L277.7 260.78 L278.2 260.31 L278.7 259.83 L279.2 259.35 L279.7 258.87 L280.2 258.39 L280.7 257.90 L281.2 257.42 L281.7 256.93 L282.2 256.45 L282.7 255.96 L283.2 255.47 L283.7 254.98 L284.2 254.49 L284.7 254.00 L285.2 253.52 L285.7 253.03 L286.2 252.54 L286.7 252.06 L287.2 251.57 L287.7 251.09 L288.2 250.61 L288.7 250.12 L289.2 249.65 L289.7 249.17 L290.2 248.70 L290.7 248.23 L291.2 247.76 L291.7 247.29 L292.2 246.83 L292.7 246.37 L293.2 245.91 L293.7 245.46 L294.2 245.01 L294.7 244.57 L295.2 244.12 L295.7 243.69 L296.2 243.26 L296.7 242.83 L297.2 242.40 L297.7 241.98 L298.2 241.57 L298.7 241.16 L299.2 240.76 L299.7 240.36 L300.2 239.97 L300.7 239.58 L301.2 239.20 L301.7 238.82 L302.2 238.45 L302.7 238.09 L303.2 237.73 L303.7 237.38 L304.2 237.04 L304.7 236.70 L305.2 236.37 L305.7 236.04 L306.2 235.72 L306.7 235.41 L307.2 235.11 L307.7 234.81 L308.2 234.52 L308.7 234.24 L309.2 233.96 L309.7 233.70 L310.2 233.44 L310.7 233.18 L311.2 232.94 L311.7 232.70 L312.2 232.47 L312.7 232.25 L313.2 232.04 L313.7 231.83 L314.2 231.63 L314.7 231.44 L315.2 231.26 L315.7 231.09 L316.2 230.93 L316.7 230.77 L317.2 230.62 L317.7 230.48 L318.2 230.35 L318.7 230.23 L319.2 230.11 L319.7 230.01 L320.2 229.91 L320.7 229.82 L321.2 229.74 L321.7 229.67 L322.2 229.61 L322.7 229.56 L323.2 229.51 L323.7 229.48 L324.2 229.45 L324.7 229.43 L325.2 229.42 L325.7 229.42 L326.2 229.43 L326.7 229.45 L327.2 229.47 L327.7 229.51 L328.2 229.55 L328.7 229.60 L329.2 229.66 L329.7 229.73 L330.2 229.81 L330.7 229.89 L331.2 229.99 L331.7 230.09 L332.2 230.20 L332.7 230.32 L333.2 230.45 L333.7 230.59 L334.2 230.73 L334.7 230.89 L335.2 231.05 L335.7 231.22 L336.2 231.39 L336.7 231.58 L337.2 231.77 L337.7 231.97 L338.2 232.18 L338.7 232.39 L339.2 232.61 L339.7 232.84 L340.2 233.08 L340.7 233.32 L341.2 233.57 L341.7 233.83 L342.2 234.09 L342.7 234.36 L343.2 234.64 L343.7 234.92 L344.2 235.21 L344.7 235.50 L345.2 235.80 L345.7 236.10 L346.2 236.41 L346.7 236.73 L347.2 237.05 L347.7 237.38 L348.2 237.71 L348.7 238.04 L349.2 238.38 L349.7 238.72 L350.2 239.07 L350.7 239.42 L351.2 239.77 L351.7 240.13 L352.2 240.49 L352.7 240.85 L353.2 241.22 L353.7 241.59 L354.2 241.96 L354.7 242.33 L355.2 242.71 L355.7 243.09 L356.2 243.46 L356.7 243.84 L357.2 244.22 L357.7 244.61 L358.2 244.99 L358.7 245.37 L359.2 245.75 L359.7 246.14 L360.2 246.52 L360.7 246.90 L361.2 247.28 L361.7 247.66 L362.2 248.04 L362.7 248.42 L363.2 248.80 L363.7 249.18 L364.2 249.55 L364.7 249.92 L365.2 250.29 L365.7 250.66 L366.2 251.03 L366.7 251.39 L367.2 251.75 L367.7 252.10 L368.2 252.46 L368.7 252.81 L369.2 253.16 L369.7 253.50 L370.2 253.84 L370.7 254.17 L371.2 254.51 L371.7 254.83 L372.2 255.16 L372.7 255.48 L373.2 255.79 L373.7 256.10 L374.2 256.40 L374.7 256.70 L375.2 257.00 L375.7 257.29 L376.2 257.57 L376.7 257.85 L377.2 258.13 L377.7 258.39 L378.2 258.66 L378.7 258.91 L379.2 259.17 L379.7 259.41 L380.2 259.65 L380.7 259.89 L381.2 260.12 L381.7 260.34 L382.2 260.56 L382.7 260.77 L383.2 260.97 L383.7 261.17 L384.2 261.37 L384.7 261.55 L385.2 261.74 L385.7 261.91 L386.2 262.08 L386.7 262.25 L387.2 262.40 L387.7 262.56 L388.2 262.70 L388.7 262.84 L389.2 262.98 L389.7 263.11 L390.2 263.23 L390.7 263.35 L391.2 263.46 L391.7 263.56 L392.2 263.66 L392.7 263.76 L393.2 263.85 L393.7 263.93 L394.2 264.01 L394.7 264.08 L395.2 264.15 L395.7 264.21 L396.2 264.27 L396.7 264.32 L397.2 264.37 L397.7 264.41 L398.2 264.45 L398.7 264.48 L399.2 264.51 L399.7 264.54 L400.2 264.56 L400.7 264.57 L401.2 264.58 L401.7 264.59 L402.2 264.59 L402.7 264.59 L403.2 264.58 L403.7 264.57 L404.2 264.55 L404.7 264.53 L405.2 264.51 L405.7 264.49 L406.2 264.46 L406.7 264.42 L407.2 264.39 L407.7 264.35 L408.2 264.30 L408.7 264.26 L409.2 264.21 L409.7 264.15 L410.2 264.10 L410.7 264.04 L411.2 263.98 L411.7 263.91 L412.2 263.85 L412.7 263.78 L413.2 263.70 L413.7 263.63 L414.2 263.55 L414.7 263.47 L415.2 263.39 L415.7 263.31 L416.2 263.22 L416.7 263.14 L417.2 263.05 L417.7 262.96 L418.2 262.87 L418.7 262.77 L419.2 262.68 L419.7 262.58 L420.2 262.48 L420.7 262.38 L421.2 262.28 L421.7 262.18 L422.2 262.08 L422.7 261.97 L423.2 261.87 L423.7 261.76 L424.2 261.66 L424.7 261.55 L425.2 261.44 L425.7 261.34 L426.2 261.23 L426.7 261.12 L427.2 261.02 L427.7 260.91 L428.2 260.80 L428.7 260.69 L429.2 260.59 L429.7 260.48 L430.2 260.38 L430.7 260.27 L431.2 260.17 L431.7 260.07 L432.2 259.96 L432.7 259.86 L433.2 259.76 L433.7 259.66 L434.2 259.57 L434.7 259.47 L435.2 259.38 L435.7 259.29 L436.2 259.20 L436.7 259.11 L437.2 259.02 L437.7 258.94 L438.2 258.86 L438.7 258.78 L439.2 258.70 L439.7 258.63 L440.2 258.56 L440.7 258.49 L441.2 258.43 L441.7 258.36 L442.2 258.31 L442.7 258.25 L443.2 258.20 L443.7 258.15 L444.2 258.11 L444.7 258.07 L445.2 258.03 L445.7 258.00 L446.2 257.97 L446.7 257.94 L447.2 257.92 L447.7 257.90 L448.2 257.89 L448.7 257.89 L449.2 257.88 L449.7 257.88 L450.2 257.89 L450.7 257.90 L451.2 257.92 L451.7 257.94 L452.2 257.97 L452.7 258.00 L453.2 258.03 L453.7 258.07 L454.2 258.12 L454.7 258.17 L455.2 258.23 L455.7 258.29 L456.2 258.36 L456.7 258.43 L457.2 258.51 L457.7 258.60 L458.2 258.68 L458.7 258.78 L459.2 258.88 L459.7 258.99 L460.2 259.10 L460.7 259.21 L461.2 259.33 L461.7 259.46 L462.2 259.59 L462.7 259.73 L463.2 259.87 L463.7 260.02 L464.2 260.18 L464.7 260.33 L465.2 260.50 L465.7 260.67 L466.2 260.84 L466.7 261.02 L467.2 261.20 L467.7 261.39 L468.2 261.58 L468.7 261.78 L469.2 261.98 L469.7 262.19 L470.2 262.40 L470.7 262.61 L471.2 262.83 L471.7 263.05 L472.2 263.28 L472.7 263.51 L473.2 263.75 L473.7 263.98 L474.2 264.22 L474.7 264.47 L475.2 264.71 L475.7 264.96 L476.2 265.22 L476.7 265.47 L477.2 265.73 L477.7 265.99 L478.2 266.25 L478.7 266.52 L479.2 266.78 L479.7 267.05 L480.2 267.32 L480.7 267.59 L481.2 267.86 L481.7 268.14 L482.2 268.41 L482.7 268.69 L483.2 268.96 L483.7 269.24 L484.2 269.52 L484.7 269.80 L485.2 270.07 L485.7 270.35 L486.2 270.63 L486.7 270.90 L487.2 271.18 L487.7 271.46 L488.2 271.73 L488.7 272.00 L489.2 272.28 L489.7 272.55 L490.2 272.82 L490.7 273.08 L491.2 273.35 L491.7 273.61 L492.2 273.88 L492.7 274.14 L493.2 274.39 L493.7 274.65 L494.2 274.90 L494.7 275.15 L495.2 275.40 L495.7 275.64 L496.2 275.88 L496.7 276.12 L497.2 276.35 L497.7 276.58 L498.2 276.81 L498.7 277.04 L499.2 277.26 L499.7 277.47 L500.2 277.68 L500.7 277.89 L501.2 278.10 L501.7 278.30 L502.2 278.49 L502.7 278.68 L503.2 278.87 L503.7 279.05 L504.2 279.23 L504.7 279.40 L505.2 279.57 L505.7 279.73 L506.2 279.89 L506.7 280.05 L507.2 280.19 L507.7 280.34 L508.2 280.48 L508.7 280.61 L509.2 280.74 L509.7 280.86 L510.2 280.98 L510.7 281.10 L511.2 281.20 L511.7 281.31 L512.2 281.40 L512.7 281.50 L513.2 281.58 L513.7 281.66 L514.2 281.74 L514.7 281.81 L515.2 281.88 L515.7 281.94 L516.2 281.99 L516.7 282.04 L517.2 282.09 L517.7 282.12 L518.2 282.16 L518.7 282.19 L519.2 282.21 L519.7 282.23 L520.2 282.24 L520.7 282.25 L521.2 282.25 L521.7 282.25 L522.2 282.24 L522.7 282.23 L523.2 282.21 L523.7 282.19 L524.2 282.16 L524.7 282.12 L525.2 282.09 L525.7 282.04 L526.2 282.00 L526.7 281.94 L527.2 281.89 L527.7 281.82 L528.2 281.76 L528.7 281.69 L529.2 281.61 L529.7 281.53 L530.2 281.45 L530.7 281.36 L531.2 281.27 L531.7 281.17 L532.2 281.07 L532.7 280.96 L533.2 280.85 L533.7 280.74 L534.2 280.62 L534.7 280.50 L535.2 280.37 L535.7 280.25 L536.2 280.11 L536.7 279.98 L537.2 279.84 L537.7 279.70 L538.2 279.55 L538.7 279.40 L539.2 279.25 L539.7 279.09 L540.2 278.94 L540.7 278.77 L541.2 278.61 L541.7 278.44 L542.2 278.27 L542.7 278.10 L543.2 277.93 L543.7 277.75 L544.2 277.57 L544.7 277.39 L545.2 277.21 L545.7 277.03 L546.2 276.84 L546.7 276.65 L547.2 276.46 L547.7 276.27 L548.2 276.08 L548.7 275.88 L549.2 275.69 L549.7 275.49 L550.2 275.29 L550.7 275.09 L551.2 274.90 L551.7 274.70 L552.2 274.50 L552.7 274.29 L553.2 274.09 L553.7 273.89 L554.2 273.69 L554.7 273.49 L555.2 273.29 L555.7 273.09 L556.2 272.88 L556.7 272.68 L557.2 272.48 L557.7 272.28 L558.2 272.09 L558.7 271.89 L559.2 271.69 L559.7 271.50 L560.2 271.30 L560.7 271.11 L561.2 270.92 L561.7 270.73 L562.2 270.54 L562.7 270.35 L563.2 270.17 L563.7 269.98 L564.2 269.80 L564.7 269.63 L565.2 269.45 L565.7 269.27 L566.2 269.10 L566.7 268.93 L567.2 268.77 L567.7 268.61 L568.2 268.45 L568.7 268.29 L569.2 268.13 L569.7 267.98 L570.2 267.83 L570.7 267.69 L571.2 267.55 L571.7 267.41 L572.2 267.28 L572.7 267.15 L573.2 267.02 L573.7 266.90 L574.2 266.78 L574.7 266.66 L575.2 266.55 L575.7 266.45 L576.2 266.34 L576.7 266.24 L577.2 266.15 L577.7 266.06 L578.2 265.98 L578.7 265.89 L579.2 265.82 L579.7 265.75 L580.2 265.68 L580.7 265.61 L581.2 265.56 L581.7 265.50 L582.2 265.45 L582.7 265.41 L583.2 265.37 L583.7 265.33 L584.2 265.30 L584.7 265.28 L585.2 265.26 L585.7 265.24 L586.2 265.23 L586.7 265.22 L587.2 265.22 L587.7 265.22 L588.2 265.23 L588.7 265.24 L589.2 265.26 L589.7 265.28 L590.2 265.30 L590.7 265.33 L591.2 265.37 L591.7 265.41 L592.2 265.45 L592.7 265.50 L593.2 265.55 L593.7 265.61 L594.2 265.67 L594.7 265.73 L595.2 265.80 L595.7 265.87 L596.2 265.95 L596.7 266.03 L597.2 266.11 L597.7 266.20 L598.2 266.29 L598.7 266.39 L599.2 266.49 L599.7 266.59 L600.2 266.69 L600.7 266.80 L601.2 266.92 L601.7 267.03 L602.2 267.15 L602.7 267.27 L603.2 267.39 L603.7 267.52 L604.2 267.65 L604.7 267.78 L605.2 267.92 L605.7 268.06 L606.2 268.20 L606.7 268.34 L607.2 268.48 L607.7 268.63 L608.2 268.78 L608.7 268.93 L609.2 269.08 L609.7 269.24 L610.2 269.39 L610.7 269.55 L611.2 269.71 L611.7 269.88 L612.2 270.04 L612.7 270.21 L613.2 270.37 L613.7 270.54 L614.2 270.71 L614.7 270.89 L615.2 271.06 L615.7 271.24 L616.2 271.41 L616.7 271.59 L617.2 271.78 L617.7 271.96 L618.2 272.14 L618.7 272.33 L619.2 272.52 L619.7 272.71 L620.2 272.90 L620.7 273.10 L621.2 273.29 L621.7 273.49 L622.2 273.69 L622.7 273.90 L623.2 274.10 L623.7 274.31 L624.1 274.48" stroke="#e75c26" stroke-width="2.3" stroke-dasharray="5.2 4.52" stroke-dashoffset="-0.9" stroke-linejoin="round"/>
<path d="M12.2 331.48 L12.7 331.65 L13.2 331.80 L13.7 331.94 L14.2 332.07 L14.7 332.19 L15.2 332.29 L15.7 332.39 L16.2 332.47 L16.7 332.53 L17.2 332.59 L17.7 332.63 L18.2 332.66 L18.7 332.68 L19.2 332.69 L19.7 332.69 L20.2 332.67 L20.7 332.64 L21.2 332.61 L21.7 332.56 L22.2 332.49 L22.7 332.42 L23.2 332.34 L23.7 332.24 L24.2 332.14 L24.7 332.02 L25.2 331.89 L25.7 331.76 L26.2 331.61 L26.7 331.45 L27.2 331.28 L27.7 331.11 L28.2 330.92 L28.7 330.72 L29.2 330.52 L29.7 330.30 L30.2 330.08 L30.7 329.84 L31.2 329.60 L31.7 329.35 L32.2 329.09 L32.7 328.82 L33.2 328.54 L33.7 328.26 L34.2 327.97 L34.7 327.67 L35.2 327.36 L35.7 327.04 L36.2 326.72 L36.7 326.40 L37.2 326.06 L37.7 325.72 L38.2 325.37 L38.7 325.02 L39.2 324.66 L39.7 324.30 L40.2 323.93 L40.7 323.55 L41.2 323.17 L41.7 322.79 L42.2 322.40 L42.7 322.01 L43.2 321.61 L43.7 321.21 L44.2 320.80 L44.7 320.40 L45.2 319.99 L45.7 319.58 L46.2 319.16 L46.7 318.74 L47.2 318.33 L47.7 317.91 L48.2 317.48 L48.7 317.06 L49.2 316.64 L49.7 316.21 L50.2 315.79 L50.7 315.37 L51.2 314.94 L51.7 314.52 L52.2 314.10 L52.7 313.68 L53.2 313.26 L53.7 312.85 L54.2 312.43 L54.7 312.02 L55.2 311.61 L55.7 311.21 L56.2 310.80 L56.7 310.40 L57.2 310.01 L57.7 309.62 L58.2 309.23 L58.7 308.85 L59.2 308.48 L59.7 308.11 L60.2 307.74 L60.7 307.38 L61.2 307.03 L61.7 306.69 L62.2 306.35 L62.7 306.02 L63.2 305.69 L63.7 305.38 L64.2 305.07 L64.7 304.77 L65.2 304.48 L65.7 304.19 L66.2 303.92 L66.7 303.66 L67.2 303.40 L67.7 303.16 L68.2 302.92 L68.7 302.69 L69.2 302.48 L69.7 302.27 L70.2 302.08 L70.7 301.90 L71.2 301.72 L71.7 301.56 L72.2 301.41 L72.7 301.27 L73.2 301.15 L73.7 301.03 L74.2 300.93 L74.7 300.83 L75.2 300.75 L75.7 300.69 L76.2 300.63 L76.7 300.59 L77.2 300.56 L77.7 300.54 L78.2 300.53 L78.7 300.54 L79.2 300.55 L79.7 300.58 L80.2 300.62 L80.7 300.68 L81.2 300.74 L81.7 300.82 L82.2 300.91 L82.7 301.02 L83.2 301.13 L83.7 301.26 L84.2 301.39 L84.7 301.54 L85.2 301.70 L85.7 301.87 L86.2 302.05 L86.7 302.25 L87.2 302.45 L87.7 302.66 L88.2 302.89 L88.7 303.12 L89.2 303.36 L89.7 303.62 L90.2 303.88 L90.7 304.15 L91.2 304.43 L91.7 304.72 L92.2 305.01 L92.7 305.31 L93.2 305.62 L93.7 305.94 L94.2 306.27 L94.7 306.60 L95.2 306.93 L95.7 307.28 L96.2 307.62 L96.7 307.97 L97.2 308.33 L97.7 308.69 L98.2 309.06 L98.7 309.42 L99.2 309.79 L99.7 310.17 L100.2 310.54 L100.7 310.92 L101.2 311.29 L101.7 311.67 L102.2 312.05 L102.7 312.43 L103.2 312.80 L103.7 313.18 L104.2 313.55 L104.7 313.92 L105.2 314.29 L105.7 314.66 L106.2 315.02 L106.7 315.38 L107.2 315.73 L107.7 316.08 L108.2 316.42 L108.7 316.76 L109.2 317.09 L109.7 317.42 L110.2 317.73 L110.7 318.04 L111.2 318.34 L111.7 318.64 L112.2 318.92 L112.7 319.19 L113.2 319.45 L113.7 319.71 L114.2 319.95 L114.7 320.18 L115.2 320.39 L115.7 320.60 L116.2 320.79 L116.7 320.97 L117.2 321.13 L117.7 321.28 L118.2 321.42 L118.7 321.54 L119.2 321.64 L119.7 321.73 L120.2 321.81 L120.7 321.86 L121.2 321.90 L121.7 321.92 L122.2 321.93 L122.7 321.91 L123.2 321.88 L123.7 321.82 L124.2 321.75 L124.7 321.66 L125.2 321.55 L125.7 321.41 L126.2 321.26 L126.7 321.09 L127.2 320.89 L127.7 320.67 L128.2 320.43 L128.7 320.17 L129.2 319.88 L129.7 319.57 L130.2 319.24 L130.7 318.88 L131.2 318.50 L131.7 318.10 L132.2 317.67 L132.7 317.22 L133.2 316.74 L133.7 316.24 L134.2 315.71 L134.7 315.16 L135.2 314.58 L135.7 313.97 L136.2 313.34 L136.7 312.68 L137.2 312.00 L137.7 311.29 L138.2 310.55 L138.7 309.78 L139.2 308.99 L139.7 308.17 L140.2 307.33 L140.7 306.45 L141.2 305.55 L141.7 304.62 L142.2 303.67 L142.7 302.68 L143.2 301.67 L143.7 300.63 L144.2 299.57 L144.7 298.47 L145.2 297.35 L145.7 296.20 L146.2 295.02 L146.7 293.81 L147.2 292.58 L147.7 291.32 L148.2 290.03 L148.7 288.71 L149.2 287.36 L149.7 285.99 L150.2 284.59 L150.7 283.16 L151.2 281.71 L151.7 280.23 L152.2 278.72 L152.7 277.18 L153.2 275.62 L153.7 274.03 L154.2 272.42 L154.7 270.77 L155.2 269.11 L155.7 267.42 L156.2 265.70 L156.7 263.96 L157.2 262.19 L157.7 260.40 L158.2 258.58 L158.7 256.74 L159.2 254.88 L159.7 252.99 L160.2 251.08 L160.7 249.15 L161.2 247.19 L161.7 245.21 L162.2 243.22 L162.7 241.20 L163.2 239.16 L163.7 237.10 L164.2 235.02 L164.7 232.92 L165.2 230.80 L165.7 228.66 L166.2 226.51 L166.7 224.34 L167.2 222.15 L167.7 219.95 L168.2 217.73 L168.7 215.49 L169.2 213.24 L169.7 210.98 L170.2 208.70 L170.7 206.41 L171.2 204.11 L171.7 201.80 L172.2 199.48 L172.7 197.14 L173.2 194.80 L173.7 192.45 L174.2 190.09 L174.7 187.72 L175.2 185.35 L175.7 182.97 L176.2 180.58 L176.7 178.19 L177.2 175.80 L177.7 173.40 L178.2 171.01 L178.7 168.61 L179.2 166.21 L179.7 163.81 L180.2 161.41 L180.7 159.01 L181.2 156.61 L181.7 154.22 L182.2 151.84 L182.7 149.45 L183.2 147.08 L183.7 144.71 L184.2 142.34 L184.7 139.99 L185.2 137.65 L185.7 135.31 L186.2 132.99 L186.7 130.67 L187.2 128.37 L187.7 126.09 L188.2 123.82 L188.7 121.56 L189.2 119.32 L189.7 117.09 L190.2 114.88 L190.7 112.70 L191.2 110.53 L191.7 108.38 L192.2 106.25 L192.7 104.14 L193.2 102.06 L193.7 100.00 L194.2 97.96 L194.7 95.95 L195.2 93.96 L195.7 92.00 L196.2 90.07 L196.7 88.17 L197.2 86.29 L197.7 84.45 L198.2 82.63 L198.7 80.85 L199.2 79.10 L199.7 77.38 L200.2 75.69 L200.7 74.04 L201.2 72.42 L201.7 70.84 L202.2 69.29 L202.7 67.78 L203.2 66.31 L203.7 64.87 L204.2 63.48 L204.7 62.12 L205.2 60.80 L205.7 59.52 L206.2 58.29 L206.7 57.09 L207.2 55.94 L207.7 54.83 L208.2 53.76 L208.7 52.73 L209.2 51.75 L209.7 50.81 L210.2 49.92 L210.7 49.07 L211.2 48.27 L211.7 47.51 L212.2 46.80 L212.7 46.14 L213.2 45.52 L213.7 44.95 L214.2 44.43 L214.7 43.95 L215.2 43.53 L215.7 43.15 L216.2 42.82 L216.7 42.54 L217.2 42.30 L217.7 42.12 L218.2 41.98 L218.7 41.90 L219.2 41.86 L219.7 41.87 L220.2 41.93 L220.7 42.05 L221.2 42.21 L221.7 42.42 L222.2 42.68 L222.7 42.99 L223.2 43.35 L223.7 43.76 L224.2 44.21 L224.7 44.72 L225.2 45.28 L225.7 45.88 L226.2 46.54 L226.7 47.24 L227.2 48.00 L227.7 48.80 L228.2 49.65 L228.7 50.54 L229.2 51.49 L229.7 52.48 L230.2 53.52 L230.7 54.61 L231.2 55.74 L231.7 56.92 L232.2 58.15 L232.7 59.42 L233.2 60.74 L233.7 62.10 L234.2 63.50 L234.7 64.95 L235.2 66.45 L235.7 67.99 L236.2 69.57 L236.7 71.19 L237.2 72.85 L237.7 74.56 L238.2 76.31 L238.7 78.09 L239.2 79.92 L239.7 81.79 L240.2 83.69 L240.7 85.63 L241.2 87.61 L241.7 89.63 L242.2 91.69 L242.7 93.77 L243.2 95.90 L243.7 98.06 L244.2 100.25 L244.7 102.47 L245.2 104.73 L245.7 107.02 L246.2 109.34 L246.7 111.69 L247.2 114.07 L247.7 116.48 L248.2 118.92 L248.7 121.38 L249.2 123.87 L249.7 126.39 L250.2 128.93 L250.7 131.50 L251.2 134.09 L251.7 136.70 L252.2 139.34 L252.7 141.99 L253.2 144.67 L253.7 147.36 L254.2 150.08 L254.7 152.81 L255.2 155.55 L255.7 158.32 L256.2 161.10 L256.7 163.89 L257.2 166.70 L257.7 169.52 L258.2 172.35 L258.7 175.20 L259.2 178.05 L259.7 180.91 L260.2 183.79 L260.7 186.66 L261.2 189.55 L261.7 192.44 L262.2 195.34 L262.7 198.24 L263.2 201.14 L263.7 204.05 L264.2 206.96 L264.7 209.86 L265.2 212.77 L265.7 215.68 L266.2 218.58 L266.7 221.49 L267.2 224.39 L267.7 227.28 L268.2 230.17 L268.7 233.05 L269.2 235.93 L269.7 238.80 L270.2 241.66 L270.7 244.51 L271.2 247.35 L271.7 250.18 L272.2 253.00 L272.7 255.80 L273.2 258.60 L273.7 261.37 L274.2 264.14 L274.7 266.89 L275.2 269.62 L275.7 272.33 L276.2 275.03 L276.7 277.71 L277.2 280.37 L277.7 283.01 L278.2 285.63 L278.7 288.23 L279.2 290.81 L279.7 293.36 L280.2 295.89 L280.7 298.40 L281.2 300.89 L281.7 303.35 L282.2 305.78 L282.7 308.19 L283.2 310.57 L283.7 312.93 L284.2 315.26 L284.7 317.56 L285.2 319.83 L285.7 322.07 L286.2 324.29 L286.7 326.47 L287.2 328.62 L287.7 330.75 L288.2 332.84 L288.7 334.90 L289.2 336.93 L289.7 338.93 L290.2 340.89 L290.7 342.82 L291.2 344.72 L291.7 346.59 L292.2 348.42 L292.7 350.22 L293.2 351.98 L293.7 353.71 L294.2 355.41 L294.7 357.07 L295.2 358.69 L295.7 360.28 L296.2 361.84 L296.7 363.36 L297.2 364.84 L297.7 366.29 L298.2 367.70 L298.7 369.08 L299.2 370.42 L299.7 371.72 L300.2 372.99 L300.7 374.22 L301.2 375.42 L301.7 376.58 L302.2 377.70 L302.7 378.79 L303.2 379.84 L303.7 380.86 L304.2 381.84 L304.7 382.78 L305.2 383.69 L305.7 384.56 L306.2 385.40 L306.7 386.20 L307.2 386.97 L307.7 387.70 L308.2 388.40 L308.7 389.06 L309.2 389.68 L309.7 390.28 L310.2 390.83 L310.7 391.36 L311.2 391.85 L311.7 392.31 L312.2 392.73 L312.7 393.12 L313.2 393.48 L313.7 393.80 L314.2 394.10 L314.7 394.36 L315.2 394.59 L315.7 394.78 L316.2 394.95 L316.7 395.09 L317.2 395.19 L317.7 395.27 L318.2 395.32 L318.7 395.34 L319.2 395.33 L319.7 395.29 L320.2 395.22 L320.7 395.12 L321.2 395.00 L321.7 394.85 L322.2 394.68 L322.7 394.48 L323.2 394.25 L323.7 394.00 L324.2 393.73 L324.7 393.43 L325.2 393.10 L325.7 392.76 L326.2 392.39 L326.7 392.00 L327.2 391.58 L327.7 391.15 L328.2 390.70 L328.7 390.22 L329.2 389.73 L329.7 389.21 L330.2 388.68 L330.7 388.13 L331.2 387.57 L331.7 386.98 L332.2 386.38 L332.7 385.77 L333.2 385.14 L333.7 384.49 L334.2 383.83 L334.7 383.16 L335.2 382.47 L335.7 381.77 L336.2 381.06 L336.7 380.34 L337.2 379.61 L337.7 378.86 L338.2 378.11 L338.7 377.35 L339.2 376.58 L339.7 375.81 L340.2 375.02 L340.7 374.23 L341.2 373.43 L341.7 372.63 L342.2 371.82 L342.7 371.01 L343.2 370.20 L343.7 369.38 L344.2 368.56 L344.7 367.73 L345.2 366.91 L345.7 366.08 L346.2 365.26 L346.7 364.43 L347.2 363.61 L347.7 362.78 L348.2 361.96 L348.7 361.14 L349.2 360.32 L349.7 359.51 L350.2 358.70 L350.7 357.89 L351.2 357.09 L351.7 356.30 L352.2 355.51 L352.7 354.72 L353.2 353.95 L353.7 353.18 L354.2 352.42 L354.7 351.66 L355.2 350.92 L355.7 350.18 L356.2 349.45 L356.7 348.74 L357.2 348.03 L357.7 347.33 L358.2 346.64 L358.7 345.97 L359.2 345.30 L359.7 344.65 L360.2 344.01 L360.7 343.38 L361.2 342.77 L361.7 342.16 L362.2 341.57 L362.7 341.00 L363.2 340.44 L363.7 339.89 L364.2 339.35 L364.7 338.83 L365.2 338.32 L365.7 337.83 L366.2 337.35 L366.7 336.89 L367.2 336.44 L367.7 336.01 L368.2 335.59 L368.7 335.19 L369.2 334.80 L369.7 334.43 L370.2 334.07 L370.7 333.73 L371.2 333.41 L371.7 333.10 L372.2 332.80 L372.7 332.52 L373.2 332.26 L373.7 332.01 L374.2 331.77 L374.7 331.55 L375.2 331.35 L375.7 331.16 L376.2 330.98 L376.7 330.82 L377.2 330.67 L377.7 330.54 L378.2 330.42 L378.7 330.32 L379.2 330.23 L379.7 330.15 L380.2 330.09 L380.7 330.04 L381.2 330.00 L381.7 329.98 L382.2 329.97 L382.7 329.97 L383.2 329.98 L383.7 330.01 L384.2 330.04 L384.7 330.09 L385.2 330.15 L385.7 330.22 L386.2 330.30 L386.7 330.39 L387.2 330.48 L387.7 330.59 L388.2 330.71 L388.7 330.84 L389.2 330.97 L389.7 331.12 L390.2 331.27 L390.7 331.43 L391.2 331.59 L391.7 331.77 L392.2 331.95 L392.7 332.13 L393.2 332.33 L393.7 332.52 L394.2 332.73 L394.7 332.94 L395.2 333.15 L395.7 333.37 L396.2 333.59 L396.7 333.81 L397.2 334.04 L397.7 334.27 L398.2 334.50 L398.7 334.74 L399.2 334.97 L399.7 335.21 L400.2 335.45 L400.7 335.69 L401.2 335.93 L401.7 336.18 L402.2 336.42 L402.7 336.66 L403.2 336.90 L403.7 337.14 L404.2 337.38 L404.7 337.61 L405.2 337.85 L405.7 338.08 L406.2 338.31 L406.7 338.53 L407.2 338.76 L407.7 338.98 L408.2 339.19 L408.7 339.40 L409.2 339.61 L409.7 339.81 L410.2 340.01 L410.7 340.20 L411.2 340.39 L411.7 340.57 L412.2 340.75 L412.7 340.91 L413.2 341.08 L413.7 341.23 L414.2 341.38 L414.7 341.52 L415.2 341.65 L415.7 341.78 L416.2 341.90 L416.7 342.01 L417.2 342.11 L417.7 342.20 L418.2 342.28 L418.7 342.36 L419.2 342.42 L419.7 342.48 L420.2 342.52 L420.7 342.56 L421.2 342.58 L421.7 342.60 L422.2 342.60 L422.7 342.60 L423.2 342.58 L423.7 342.55 L424.2 342.51 L424.7 342.46 L425.2 342.40 L425.7 342.33 L426.2 342.24 L426.7 342.15 L427.2 342.04 L427.7 341.92 L428.2 341.79 L428.7 341.64 L429.2 341.49 L429.7 341.32 L430.2 341.13 L430.7 340.94 L431.2 340.73 L431.7 340.51 L432.2 340.28 L432.7 340.03 L433.2 339.78 L433.7 339.50 L434.2 339.22 L434.7 338.92 L435.2 338.61 L435.7 338.29 L436.2 337.95 L436.7 337.61 L437.2 337.24 L437.7 336.87 L438.2 336.48 L438.7 336.08 L439.2 335.67 L439.7 335.24 L440.2 334.81 L440.7 334.35 L441.2 333.89 L441.7 333.42 L442.2 332.93 L442.7 332.43 L443.2 331.91 L443.7 331.39 L444.2 330.86 L444.7 330.31 L445.2 329.75 L445.7 329.18 L446.2 328.60 L446.7 328.00 L447.2 327.40 L447.7 326.79 L448.2 326.16 L448.7 325.53 L449.2 324.88 L449.7 324.23 L450.2 323.56 L450.7 322.89 L451.2 322.21 L451.7 321.51 L452.2 320.81 L452.7 320.11 L453.2 319.39 L453.7 318.66 L454.2 317.93 L454.7 317.19 L455.2 316.44 L455.7 315.69 L456.2 314.93 L456.7 314.17 L457.2 313.39 L457.7 312.62 L458.2 311.83 L458.7 311.05 L459.2 310.25 L459.7 309.46 L460.2 308.66 L460.7 307.85 L461.2 307.05 L461.7 306.24 L462.2 305.42 L462.7 304.61 L463.2 303.79 L463.7 302.97 L464.2 302.15 L464.7 301.33 L465.2 300.51 L465.7 299.69 L466.2 298.87 L466.7 298.05 L467.2 297.23 L467.7 296.41 L468.2 295.60 L468.7 294.78 L469.2 293.97 L469.7 293.16 L470.2 292.35 L470.7 291.55 L471.2 290.75 L471.7 289.96 L472.2 289.17 L472.7 288.38 L473.2 287.60 L473.7 286.82 L474.2 286.05 L474.7 285.29 L475.2 284.53 L475.7 283.78 L476.2 283.03 L476.7 282.30 L477.2 281.57 L477.7 280.85 L478.2 280.13 L478.7 279.43 L479.2 278.73 L479.7 278.05 L480.2 277.37 L480.7 276.70 L481.2 276.04 L481.7 275.40 L482.2 274.76 L482.7 274.13 L483.2 273.52 L483.7 272.92 L484.2 272.32 L484.7 271.74 L485.2 271.17 L485.7 270.62 L486.2 270.07 L486.7 269.54 L487.2 269.03 L487.7 268.52 L488.2 268.03 L488.7 267.55 L489.2 267.08 L489.7 266.63 L490.2 266.20 L490.7 265.77 L491.2 265.36 L491.7 264.97 L492.2 264.59 L492.7 264.22 L493.2 263.87 L493.7 263.54 L494.2 263.22 L494.7 262.91 L495.2 262.62 L495.7 262.35 L496.2 262.09 L496.7 261.85 L497.2 261.62 L497.7 261.41 L498.2 261.21 L498.7 261.03 L499.2 260.86 L499.7 260.71 L500.2 260.58 L500.7 260.46 L501.2 260.36 L501.7 260.27 L502.2 260.20 L502.7 260.15 L503.2 260.11 L503.7 260.08 L504.2 260.08 L504.7 260.08 L505.2 260.11 L505.7 260.14 L506.2 260.20 L506.7 260.26 L507.2 260.35 L507.7 260.44 L508.2 260.56 L508.7 260.68 L509.2 260.83 L509.7 260.98 L510.2 261.15 L510.7 261.34 L511.2 261.53 L511.7 261.74 L512.2 261.97 L512.7 262.21 L513.2 262.46 L513.7 262.72 L514.2 262.99 L514.7 263.28 L515.2 263.58 L515.7 263.89 L516.2 264.21 L516.7 264.55 L517.2 264.89 L517.7 265.25 L518.2 265.61 L518.7 265.98 L519.2 266.37 L519.7 266.76 L520.2 267.16 L520.7 267.58 L521.2 267.99 L521.7 268.42 L522.2 268.86 L522.7 269.30 L523.2 269.75 L523.7 270.20 L524.2 270.66 L524.7 271.13 L525.2 271.60 L525.7 272.08 L526.2 272.56 L526.7 273.05 L527.2 273.54 L527.7 274.03 L528.2 274.53 L528.7 275.03 L529.2 275.53 L529.7 276.04 L530.2 276.54 L530.7 277.05 L531.2 277.56 L531.7 278.07 L532.2 278.58 L532.7 279.08 L533.2 279.59 L533.7 280.10 L534.2 280.61 L534.7 281.11 L535.2 281.62 L535.7 282.12 L536.2 282.61 L536.7 283.11 L537.2 283.60 L537.7 284.09 L538.2 284.58 L538.7 285.06 L539.2 285.53 L539.7 286.00 L540.2 286.47 L540.7 286.93 L541.2 287.39 L541.7 287.84 L542.2 288.28 L542.7 288.72 L543.2 289.15 L543.7 289.58 L544.2 290.00 L544.7 290.41 L545.2 290.81 L545.7 291.21 L546.2 291.59 L546.7 291.97 L547.2 292.35 L547.7 292.71 L548.2 293.07 L548.7 293.41 L549.2 293.75 L549.7 294.08 L550.2 294.40 L550.7 294.71 L551.2 295.01 L551.7 295.31 L552.2 295.59 L552.7 295.86 L553.2 296.13 L553.7 296.38 L554.2 296.62 L554.7 296.86 L555.2 297.08 L555.7 297.30 L556.2 297.50 L556.7 297.70 L557.2 297.88 L557.7 298.05 L558.2 298.22 L558.7 298.37 L559.2 298.51 L559.7 298.64 L560.2 298.76 L560.7 298.87 L561.2 298.97 L561.7 299.06 L562.2 299.14 L562.7 299.21 L563.2 299.26 L563.7 299.31 L564.2 299.35 L564.7 299.37 L565.2 299.38 L565.7 299.39 L566.2 299.38 L566.7 299.36 L567.2 299.33 L567.7 299.29 L568.2 299.23 L568.7 299.17 L569.2 299.10 L569.7 299.01 L570.2 298.91 L570.7 298.81 L571.2 298.69 L571.7 298.56 L572.2 298.42 L572.7 298.26 L573.2 298.10 L573.7 297.93 L574.2 297.74 L574.7 297.54 L575.2 297.33 L575.7 297.12 L576.2 296.89 L576.7 296.64 L577.2 296.39 L577.7 296.13 L578.2 295.86 L578.7 295.57 L579.2 295.28 L579.7 294.97 L580.2 294.65 L580.7 294.33 L581.2 293.99 L581.7 293.64 L582.2 293.29 L582.7 292.92 L583.2 292.54 L583.7 292.15 L584.2 291.76 L584.7 291.35 L585.2 290.94 L585.7 290.51 L586.2 290.08 L586.7 289.64 L587.2 289.19 L587.7 288.73 L588.2 288.27 L588.7 287.80 L589.2 287.32 L589.7 286.83 L590.2 286.34 L590.7 285.84 L591.2 285.34 L591.7 284.83 L592.2 284.31 L592.7 283.79 L593.2 283.27 L593.7 282.74 L594.2 282.21 L594.7 281.68 L595.2 281.14 L595.7 280.60 L596.2 280.06 L596.7 279.52 L597.2 278.98 L597.7 278.43 L598.2 277.89 L598.7 277.35 L599.2 276.81 L599.7 276.27 L600.2 275.73 L600.7 275.20 L601.2 274.66 L601.7 274.13 L602.2 273.61 L602.7 273.09 L603.2 272.57 L603.7 272.06 L604.2 271.55 L604.7 271.05 L605.2 270.56 L605.7 270.07 L606.2 269.59 L606.7 269.12 L607.2 268.65 L607.7 268.19 L608.2 267.74 L608.7 267.30 L609.2 266.86 L609.7 266.44 L610.2 266.02 L610.7 265.61 L611.2 265.21 L611.7 264.81 L612.2 264.43 L612.7 264.05 L613.2 263.68 L613.7 263.32 L614.2 262.96 L614.7 262.62 L615.2 262.28 L615.7 261.94 L616.2 261.61 L616.7 261.29 L617.2 260.97 L617.7 260.66 L618.2 260.35 L618.7 260.04 L619.2 259.73 L619.7 259.42 L620.2 259.12 L620.7 258.81 L621.2 258.50 L621.7 258.18 L622.2 257.86 L622.7 257.54 L623.2 257.20 L623.7 256.86 L624.1 256.58" stroke="#0000ff" stroke-width="2.05" stroke-linejoin="round"/>
<line x1="269.75" y1="24.8" x2="269.75" y2="414.9" stroke="#000" stroke-width="1.7" stroke-dasharray="5.2 4.54"/>
</svg>
<div class="lbl" style="left:0;top:1px;"><span style="left:197.2px">R</span><span style="left:205.2px">e</span><span style="left:212.6px">(</span><span style="left:216.9px">&#916;</span><span class="sb" style="left:225.4px">2</span><span style="left:232.6px">)</span></div>
<div class="lbl" style="left:645.4px;top:262.5px;">m<span style="position:relative;left:0.5px">X</span></div>
</body></html>
